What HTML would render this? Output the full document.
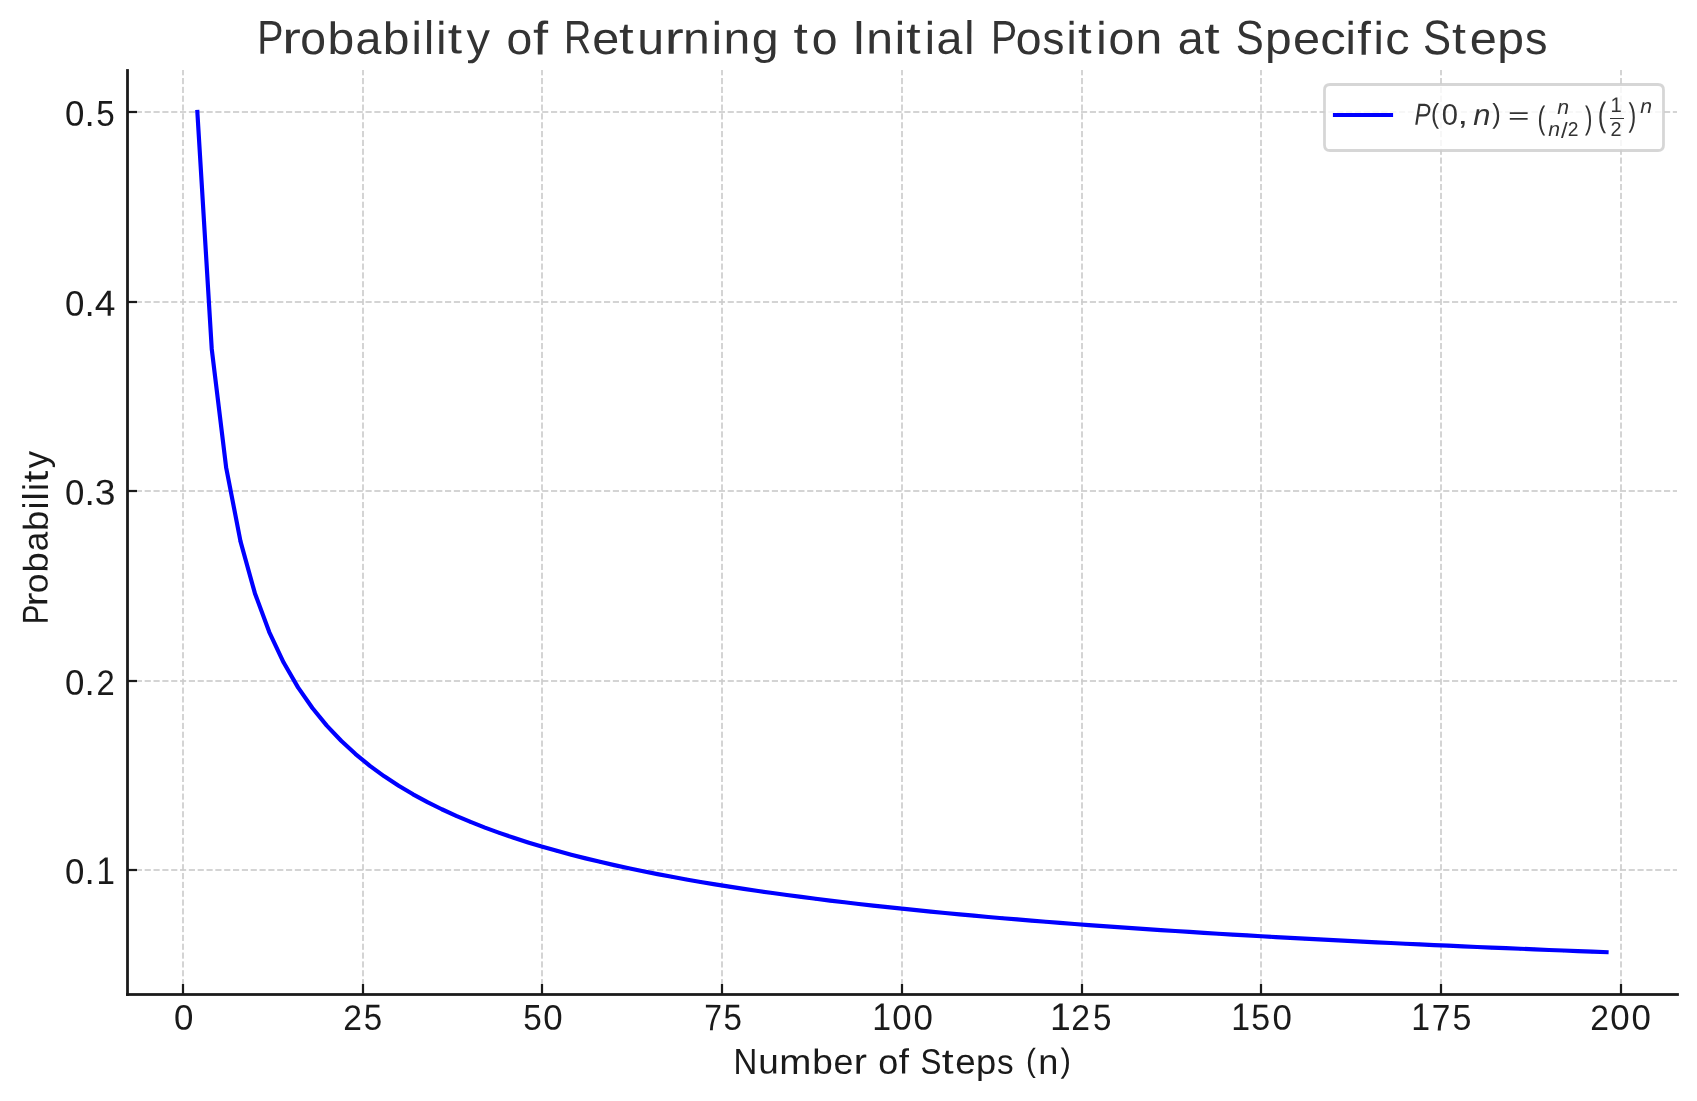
<!DOCTYPE html>
<html><head><meta charset="utf-8"><title>Probability of Returning to Initial Position at Specific Steps</title>
<style>html,body{margin:0;padding:0;background:#fff;width:1697px;height:1101px;overflow:hidden}
svg text{font-family:"Liberation Sans",sans-serif}</style></head>
<body>
<svg width="1697" height="1101" viewBox="0 0 1697 1101" style="position:absolute;left:0;top:0;display:block;will-change:transform">
<rect x="0" y="0" width="1697" height="1101" fill="#ffffff"/>
<g fill="#cccccc"><rect x="182.167" y="987.833" width="1.6667" height="6.167"/><rect x="182.167" y="979.000" width="1.6667" height="6.167"/><rect x="182.167" y="970.167" width="1.6667" height="6.167"/><rect x="182.167" y="961.333" width="1.6667" height="6.167"/><rect x="182.167" y="952.500" width="1.6667" height="6.167"/><rect x="182.167" y="943.667" width="1.6667" height="6.167"/><rect x="182.167" y="934.833" width="1.6667" height="6.167"/><rect x="182.167" y="926.000" width="1.6667" height="6.167"/><rect x="182.167" y="917.167" width="1.6667" height="6.167"/><rect x="182.167" y="908.333" width="1.6667" height="6.167"/><rect x="182.167" y="899.500" width="1.6667" height="6.167"/><rect x="182.167" y="890.667" width="1.6667" height="6.167"/><rect x="182.167" y="881.833" width="1.6667" height="6.167"/><rect x="182.167" y="873.000" width="1.6667" height="6.167"/><rect x="182.167" y="864.167" width="1.6667" height="6.167"/><rect x="182.167" y="855.333" width="1.6667" height="6.167"/><rect x="182.167" y="846.500" width="1.6667" height="6.167"/><rect x="182.167" y="837.667" width="1.6667" height="6.167"/><rect x="182.167" y="828.833" width="1.6667" height="6.167"/><rect x="182.167" y="820.000" width="1.6667" height="6.167"/><rect x="182.167" y="811.167" width="1.6667" height="6.167"/><rect x="182.167" y="802.333" width="1.6667" height="6.167"/><rect x="182.167" y="793.500" width="1.6667" height="6.167"/><rect x="182.167" y="784.667" width="1.6667" height="6.167"/><rect x="182.167" y="775.833" width="1.6667" height="6.167"/><rect x="182.167" y="767.000" width="1.6667" height="6.167"/><rect x="182.167" y="758.167" width="1.6667" height="6.167"/><rect x="182.167" y="749.333" width="1.6667" height="6.167"/><rect x="182.167" y="740.500" width="1.6667" height="6.167"/><rect x="182.167" y="731.667" width="1.6667" height="6.167"/><rect x="182.167" y="722.833" width="1.6667" height="6.167"/><rect x="182.167" y="714.000" width="1.6667" height="6.167"/><rect x="182.167" y="705.167" width="1.6667" height="6.167"/><rect x="182.167" y="696.333" width="1.6667" height="6.167"/><rect x="182.167" y="687.500" width="1.6667" height="6.167"/><rect x="182.167" y="678.667" width="1.6667" height="6.167"/><rect x="182.167" y="669.833" width="1.6667" height="6.167"/><rect x="182.167" y="661.000" width="1.6667" height="6.167"/><rect x="182.167" y="652.167" width="1.6667" height="6.167"/><rect x="182.167" y="643.333" width="1.6667" height="6.167"/><rect x="182.167" y="634.500" width="1.6667" height="6.167"/><rect x="182.167" y="625.667" width="1.6667" height="6.167"/><rect x="182.167" y="616.833" width="1.6667" height="6.167"/><rect x="182.167" y="608.000" width="1.6667" height="6.167"/><rect x="182.167" y="599.167" width="1.6667" height="6.167"/><rect x="182.167" y="590.333" width="1.6667" height="6.167"/><rect x="182.167" y="581.500" width="1.6667" height="6.167"/><rect x="182.167" y="572.667" width="1.6667" height="6.167"/><rect x="182.167" y="563.833" width="1.6667" height="6.167"/><rect x="182.167" y="555.000" width="1.6667" height="6.167"/><rect x="182.167" y="546.167" width="1.6667" height="6.167"/><rect x="182.167" y="537.333" width="1.6667" height="6.167"/><rect x="182.167" y="528.500" width="1.6667" height="6.167"/><rect x="182.167" y="519.667" width="1.6667" height="6.167"/><rect x="182.167" y="510.833" width="1.6667" height="6.167"/><rect x="182.167" y="502.000" width="1.6667" height="6.167"/><rect x="182.167" y="493.167" width="1.6667" height="6.167"/><rect x="182.167" y="484.333" width="1.6667" height="6.167"/><rect x="182.167" y="475.500" width="1.6667" height="6.167"/><rect x="182.167" y="466.667" width="1.6667" height="6.167"/><rect x="182.167" y="457.833" width="1.6667" height="6.167"/><rect x="182.167" y="449.000" width="1.6667" height="6.167"/><rect x="182.167" y="440.167" width="1.6667" height="6.167"/><rect x="182.167" y="431.333" width="1.6667" height="6.167"/><rect x="182.167" y="422.500" width="1.6667" height="6.167"/><rect x="182.167" y="413.667" width="1.6667" height="6.167"/><rect x="182.167" y="404.833" width="1.6667" height="6.167"/><rect x="182.167" y="396.000" width="1.6667" height="6.167"/><rect x="182.167" y="387.167" width="1.6667" height="6.167"/><rect x="182.167" y="378.333" width="1.6667" height="6.167"/><rect x="182.167" y="369.500" width="1.6667" height="6.167"/><rect x="182.167" y="360.667" width="1.6667" height="6.167"/><rect x="182.167" y="351.833" width="1.6667" height="6.167"/><rect x="182.167" y="343.000" width="1.6667" height="6.167"/><rect x="182.167" y="334.167" width="1.6667" height="6.167"/><rect x="182.167" y="325.333" width="1.6667" height="6.167"/><rect x="182.167" y="316.500" width="1.6667" height="6.167"/><rect x="182.167" y="307.667" width="1.6667" height="6.167"/><rect x="182.167" y="298.833" width="1.6667" height="6.167"/><rect x="182.167" y="290.000" width="1.6667" height="6.167"/><rect x="182.167" y="281.167" width="1.6667" height="6.167"/><rect x="182.167" y="272.333" width="1.6667" height="6.167"/><rect x="182.167" y="263.500" width="1.6667" height="6.167"/><rect x="182.167" y="254.667" width="1.6667" height="6.167"/><rect x="182.167" y="245.833" width="1.6667" height="6.167"/><rect x="182.167" y="237.000" width="1.6667" height="6.167"/><rect x="182.167" y="228.167" width="1.6667" height="6.167"/><rect x="182.167" y="219.333" width="1.6667" height="6.167"/><rect x="182.167" y="210.500" width="1.6667" height="6.167"/><rect x="182.167" y="201.667" width="1.6667" height="6.167"/><rect x="182.167" y="192.833" width="1.6667" height="6.167"/><rect x="182.167" y="184.000" width="1.6667" height="6.167"/><rect x="182.167" y="175.167" width="1.6667" height="6.167"/><rect x="182.167" y="166.333" width="1.6667" height="6.167"/><rect x="182.167" y="157.500" width="1.6667" height="6.167"/><rect x="182.167" y="148.667" width="1.6667" height="6.167"/><rect x="182.167" y="139.833" width="1.6667" height="6.167"/><rect x="182.167" y="131.000" width="1.6667" height="6.167"/><rect x="182.167" y="122.167" width="1.6667" height="6.167"/><rect x="182.167" y="113.333" width="1.6667" height="6.167"/><rect x="182.167" y="104.500" width="1.6667" height="6.167"/><rect x="182.167" y="95.667" width="1.6667" height="6.167"/><rect x="182.167" y="86.833" width="1.6667" height="6.167"/><rect x="182.167" y="78.000" width="1.6667" height="6.167"/><rect x="182.167" y="70.000" width="1.6667" height="5.333"/><rect x="362.167" y="987.833" width="1.6667" height="6.167"/><rect x="362.167" y="979.000" width="1.6667" height="6.167"/><rect x="362.167" y="970.167" width="1.6667" height="6.167"/><rect x="362.167" y="961.333" width="1.6667" height="6.167"/><rect x="362.167" y="952.500" width="1.6667" height="6.167"/><rect x="362.167" y="943.667" width="1.6667" height="6.167"/><rect x="362.167" y="934.833" width="1.6667" height="6.167"/><rect x="362.167" y="926.000" width="1.6667" height="6.167"/><rect x="362.167" y="917.167" width="1.6667" height="6.167"/><rect x="362.167" y="908.333" width="1.6667" height="6.167"/><rect x="362.167" y="899.500" width="1.6667" height="6.167"/><rect x="362.167" y="890.667" width="1.6667" height="6.167"/><rect x="362.167" y="881.833" width="1.6667" height="6.167"/><rect x="362.167" y="873.000" width="1.6667" height="6.167"/><rect x="362.167" y="864.167" width="1.6667" height="6.167"/><rect x="362.167" y="855.333" width="1.6667" height="6.167"/><rect x="362.167" y="846.500" width="1.6667" height="6.167"/><rect x="362.167" y="837.667" width="1.6667" height="6.167"/><rect x="362.167" y="828.833" width="1.6667" height="6.167"/><rect x="362.167" y="820.000" width="1.6667" height="6.167"/><rect x="362.167" y="811.167" width="1.6667" height="6.167"/><rect x="362.167" y="802.333" width="1.6667" height="6.167"/><rect x="362.167" y="793.500" width="1.6667" height="6.167"/><rect x="362.167" y="784.667" width="1.6667" height="6.167"/><rect x="362.167" y="775.833" width="1.6667" height="6.167"/><rect x="362.167" y="767.000" width="1.6667" height="6.167"/><rect x="362.167" y="758.167" width="1.6667" height="6.167"/><rect x="362.167" y="749.333" width="1.6667" height="6.167"/><rect x="362.167" y="740.500" width="1.6667" height="6.167"/><rect x="362.167" y="731.667" width="1.6667" height="6.167"/><rect x="362.167" y="722.833" width="1.6667" height="6.167"/><rect x="362.167" y="714.000" width="1.6667" height="6.167"/><rect x="362.167" y="705.167" width="1.6667" height="6.167"/><rect x="362.167" y="696.333" width="1.6667" height="6.167"/><rect x="362.167" y="687.500" width="1.6667" height="6.167"/><rect x="362.167" y="678.667" width="1.6667" height="6.167"/><rect x="362.167" y="669.833" width="1.6667" height="6.167"/><rect x="362.167" y="661.000" width="1.6667" height="6.167"/><rect x="362.167" y="652.167" width="1.6667" height="6.167"/><rect x="362.167" y="643.333" width="1.6667" height="6.167"/><rect x="362.167" y="634.500" width="1.6667" height="6.167"/><rect x="362.167" y="625.667" width="1.6667" height="6.167"/><rect x="362.167" y="616.833" width="1.6667" height="6.167"/><rect x="362.167" y="608.000" width="1.6667" height="6.167"/><rect x="362.167" y="599.167" width="1.6667" height="6.167"/><rect x="362.167" y="590.333" width="1.6667" height="6.167"/><rect x="362.167" y="581.500" width="1.6667" height="6.167"/><rect x="362.167" y="572.667" width="1.6667" height="6.167"/><rect x="362.167" y="563.833" width="1.6667" height="6.167"/><rect x="362.167" y="555.000" width="1.6667" height="6.167"/><rect x="362.167" y="546.167" width="1.6667" height="6.167"/><rect x="362.167" y="537.333" width="1.6667" height="6.167"/><rect x="362.167" y="528.500" width="1.6667" height="6.167"/><rect x="362.167" y="519.667" width="1.6667" height="6.167"/><rect x="362.167" y="510.833" width="1.6667" height="6.167"/><rect x="362.167" y="502.000" width="1.6667" height="6.167"/><rect x="362.167" y="493.167" width="1.6667" height="6.167"/><rect x="362.167" y="484.333" width="1.6667" height="6.167"/><rect x="362.167" y="475.500" width="1.6667" height="6.167"/><rect x="362.167" y="466.667" width="1.6667" height="6.167"/><rect x="362.167" y="457.833" width="1.6667" height="6.167"/><rect x="362.167" y="449.000" width="1.6667" height="6.167"/><rect x="362.167" y="440.167" width="1.6667" height="6.167"/><rect x="362.167" y="431.333" width="1.6667" height="6.167"/><rect x="362.167" y="422.500" width="1.6667" height="6.167"/><rect x="362.167" y="413.667" width="1.6667" height="6.167"/><rect x="362.167" y="404.833" width="1.6667" height="6.167"/><rect x="362.167" y="396.000" width="1.6667" height="6.167"/><rect x="362.167" y="387.167" width="1.6667" height="6.167"/><rect x="362.167" y="378.333" width="1.6667" height="6.167"/><rect x="362.167" y="369.500" width="1.6667" height="6.167"/><rect x="362.167" y="360.667" width="1.6667" height="6.167"/><rect x="362.167" y="351.833" width="1.6667" height="6.167"/><rect x="362.167" y="343.000" width="1.6667" height="6.167"/><rect x="362.167" y="334.167" width="1.6667" height="6.167"/><rect x="362.167" y="325.333" width="1.6667" height="6.167"/><rect x="362.167" y="316.500" width="1.6667" height="6.167"/><rect x="362.167" y="307.667" width="1.6667" height="6.167"/><rect x="362.167" y="298.833" width="1.6667" height="6.167"/><rect x="362.167" y="290.000" width="1.6667" height="6.167"/><rect x="362.167" y="281.167" width="1.6667" height="6.167"/><rect x="362.167" y="272.333" width="1.6667" height="6.167"/><rect x="362.167" y="263.500" width="1.6667" height="6.167"/><rect x="362.167" y="254.667" width="1.6667" height="6.167"/><rect x="362.167" y="245.833" width="1.6667" height="6.167"/><rect x="362.167" y="237.000" width="1.6667" height="6.167"/><rect x="362.167" y="228.167" width="1.6667" height="6.167"/><rect x="362.167" y="219.333" width="1.6667" height="6.167"/><rect x="362.167" y="210.500" width="1.6667" height="6.167"/><rect x="362.167" y="201.667" width="1.6667" height="6.167"/><rect x="362.167" y="192.833" width="1.6667" height="6.167"/><rect x="362.167" y="184.000" width="1.6667" height="6.167"/><rect x="362.167" y="175.167" width="1.6667" height="6.167"/><rect x="362.167" y="166.333" width="1.6667" height="6.167"/><rect x="362.167" y="157.500" width="1.6667" height="6.167"/><rect x="362.167" y="148.667" width="1.6667" height="6.167"/><rect x="362.167" y="139.833" width="1.6667" height="6.167"/><rect x="362.167" y="131.000" width="1.6667" height="6.167"/><rect x="362.167" y="122.167" width="1.6667" height="6.167"/><rect x="362.167" y="113.333" width="1.6667" height="6.167"/><rect x="362.167" y="104.500" width="1.6667" height="6.167"/><rect x="362.167" y="95.667" width="1.6667" height="6.167"/><rect x="362.167" y="86.833" width="1.6667" height="6.167"/><rect x="362.167" y="78.000" width="1.6667" height="6.167"/><rect x="362.167" y="70.000" width="1.6667" height="5.333"/><rect x="541.167" y="987.833" width="1.6667" height="6.167"/><rect x="541.167" y="979.000" width="1.6667" height="6.167"/><rect x="541.167" y="970.167" width="1.6667" height="6.167"/><rect x="541.167" y="961.333" width="1.6667" height="6.167"/><rect x="541.167" y="952.500" width="1.6667" height="6.167"/><rect x="541.167" y="943.667" width="1.6667" height="6.167"/><rect x="541.167" y="934.833" width="1.6667" height="6.167"/><rect x="541.167" y="926.000" width="1.6667" height="6.167"/><rect x="541.167" y="917.167" width="1.6667" height="6.167"/><rect x="541.167" y="908.333" width="1.6667" height="6.167"/><rect x="541.167" y="899.500" width="1.6667" height="6.167"/><rect x="541.167" y="890.667" width="1.6667" height="6.167"/><rect x="541.167" y="881.833" width="1.6667" height="6.167"/><rect x="541.167" y="873.000" width="1.6667" height="6.167"/><rect x="541.167" y="864.167" width="1.6667" height="6.167"/><rect x="541.167" y="855.333" width="1.6667" height="6.167"/><rect x="541.167" y="846.500" width="1.6667" height="6.167"/><rect x="541.167" y="837.667" width="1.6667" height="6.167"/><rect x="541.167" y="828.833" width="1.6667" height="6.167"/><rect x="541.167" y="820.000" width="1.6667" height="6.167"/><rect x="541.167" y="811.167" width="1.6667" height="6.167"/><rect x="541.167" y="802.333" width="1.6667" height="6.167"/><rect x="541.167" y="793.500" width="1.6667" height="6.167"/><rect x="541.167" y="784.667" width="1.6667" height="6.167"/><rect x="541.167" y="775.833" width="1.6667" height="6.167"/><rect x="541.167" y="767.000" width="1.6667" height="6.167"/><rect x="541.167" y="758.167" width="1.6667" height="6.167"/><rect x="541.167" y="749.333" width="1.6667" height="6.167"/><rect x="541.167" y="740.500" width="1.6667" height="6.167"/><rect x="541.167" y="731.667" width="1.6667" height="6.167"/><rect x="541.167" y="722.833" width="1.6667" height="6.167"/><rect x="541.167" y="714.000" width="1.6667" height="6.167"/><rect x="541.167" y="705.167" width="1.6667" height="6.167"/><rect x="541.167" y="696.333" width="1.6667" height="6.167"/><rect x="541.167" y="687.500" width="1.6667" height="6.167"/><rect x="541.167" y="678.667" width="1.6667" height="6.167"/><rect x="541.167" y="669.833" width="1.6667" height="6.167"/><rect x="541.167" y="661.000" width="1.6667" height="6.167"/><rect x="541.167" y="652.167" width="1.6667" height="6.167"/><rect x="541.167" y="643.333" width="1.6667" height="6.167"/><rect x="541.167" y="634.500" width="1.6667" height="6.167"/><rect x="541.167" y="625.667" width="1.6667" height="6.167"/><rect x="541.167" y="616.833" width="1.6667" height="6.167"/><rect x="541.167" y="608.000" width="1.6667" height="6.167"/><rect x="541.167" y="599.167" width="1.6667" height="6.167"/><rect x="541.167" y="590.333" width="1.6667" height="6.167"/><rect x="541.167" y="581.500" width="1.6667" height="6.167"/><rect x="541.167" y="572.667" width="1.6667" height="6.167"/><rect x="541.167" y="563.833" width="1.6667" height="6.167"/><rect x="541.167" y="555.000" width="1.6667" height="6.167"/><rect x="541.167" y="546.167" width="1.6667" height="6.167"/><rect x="541.167" y="537.333" width="1.6667" height="6.167"/><rect x="541.167" y="528.500" width="1.6667" height="6.167"/><rect x="541.167" y="519.667" width="1.6667" height="6.167"/><rect x="541.167" y="510.833" width="1.6667" height="6.167"/><rect x="541.167" y="502.000" width="1.6667" height="6.167"/><rect x="541.167" y="493.167" width="1.6667" height="6.167"/><rect x="541.167" y="484.333" width="1.6667" height="6.167"/><rect x="541.167" y="475.500" width="1.6667" height="6.167"/><rect x="541.167" y="466.667" width="1.6667" height="6.167"/><rect x="541.167" y="457.833" width="1.6667" height="6.167"/><rect x="541.167" y="449.000" width="1.6667" height="6.167"/><rect x="541.167" y="440.167" width="1.6667" height="6.167"/><rect x="541.167" y="431.333" width="1.6667" height="6.167"/><rect x="541.167" y="422.500" width="1.6667" height="6.167"/><rect x="541.167" y="413.667" width="1.6667" height="6.167"/><rect x="541.167" y="404.833" width="1.6667" height="6.167"/><rect x="541.167" y="396.000" width="1.6667" height="6.167"/><rect x="541.167" y="387.167" width="1.6667" height="6.167"/><rect x="541.167" y="378.333" width="1.6667" height="6.167"/><rect x="541.167" y="369.500" width="1.6667" height="6.167"/><rect x="541.167" y="360.667" width="1.6667" height="6.167"/><rect x="541.167" y="351.833" width="1.6667" height="6.167"/><rect x="541.167" y="343.000" width="1.6667" height="6.167"/><rect x="541.167" y="334.167" width="1.6667" height="6.167"/><rect x="541.167" y="325.333" width="1.6667" height="6.167"/><rect x="541.167" y="316.500" width="1.6667" height="6.167"/><rect x="541.167" y="307.667" width="1.6667" height="6.167"/><rect x="541.167" y="298.833" width="1.6667" height="6.167"/><rect x="541.167" y="290.000" width="1.6667" height="6.167"/><rect x="541.167" y="281.167" width="1.6667" height="6.167"/><rect x="541.167" y="272.333" width="1.6667" height="6.167"/><rect x="541.167" y="263.500" width="1.6667" height="6.167"/><rect x="541.167" y="254.667" width="1.6667" height="6.167"/><rect x="541.167" y="245.833" width="1.6667" height="6.167"/><rect x="541.167" y="237.000" width="1.6667" height="6.167"/><rect x="541.167" y="228.167" width="1.6667" height="6.167"/><rect x="541.167" y="219.333" width="1.6667" height="6.167"/><rect x="541.167" y="210.500" width="1.6667" height="6.167"/><rect x="541.167" y="201.667" width="1.6667" height="6.167"/><rect x="541.167" y="192.833" width="1.6667" height="6.167"/><rect x="541.167" y="184.000" width="1.6667" height="6.167"/><rect x="541.167" y="175.167" width="1.6667" height="6.167"/><rect x="541.167" y="166.333" width="1.6667" height="6.167"/><rect x="541.167" y="157.500" width="1.6667" height="6.167"/><rect x="541.167" y="148.667" width="1.6667" height="6.167"/><rect x="541.167" y="139.833" width="1.6667" height="6.167"/><rect x="541.167" y="131.000" width="1.6667" height="6.167"/><rect x="541.167" y="122.167" width="1.6667" height="6.167"/><rect x="541.167" y="113.333" width="1.6667" height="6.167"/><rect x="541.167" y="104.500" width="1.6667" height="6.167"/><rect x="541.167" y="95.667" width="1.6667" height="6.167"/><rect x="541.167" y="86.833" width="1.6667" height="6.167"/><rect x="541.167" y="78.000" width="1.6667" height="6.167"/><rect x="541.167" y="70.000" width="1.6667" height="5.333"/><rect x="721.167" y="987.833" width="1.6667" height="6.167"/><rect x="721.167" y="979.000" width="1.6667" height="6.167"/><rect x="721.167" y="970.167" width="1.6667" height="6.167"/><rect x="721.167" y="961.333" width="1.6667" height="6.167"/><rect x="721.167" y="952.500" width="1.6667" height="6.167"/><rect x="721.167" y="943.667" width="1.6667" height="6.167"/><rect x="721.167" y="934.833" width="1.6667" height="6.167"/><rect x="721.167" y="926.000" width="1.6667" height="6.167"/><rect x="721.167" y="917.167" width="1.6667" height="6.167"/><rect x="721.167" y="908.333" width="1.6667" height="6.167"/><rect x="721.167" y="899.500" width="1.6667" height="6.167"/><rect x="721.167" y="890.667" width="1.6667" height="6.167"/><rect x="721.167" y="881.833" width="1.6667" height="6.167"/><rect x="721.167" y="873.000" width="1.6667" height="6.167"/><rect x="721.167" y="864.167" width="1.6667" height="6.167"/><rect x="721.167" y="855.333" width="1.6667" height="6.167"/><rect x="721.167" y="846.500" width="1.6667" height="6.167"/><rect x="721.167" y="837.667" width="1.6667" height="6.167"/><rect x="721.167" y="828.833" width="1.6667" height="6.167"/><rect x="721.167" y="820.000" width="1.6667" height="6.167"/><rect x="721.167" y="811.167" width="1.6667" height="6.167"/><rect x="721.167" y="802.333" width="1.6667" height="6.167"/><rect x="721.167" y="793.500" width="1.6667" height="6.167"/><rect x="721.167" y="784.667" width="1.6667" height="6.167"/><rect x="721.167" y="775.833" width="1.6667" height="6.167"/><rect x="721.167" y="767.000" width="1.6667" height="6.167"/><rect x="721.167" y="758.167" width="1.6667" height="6.167"/><rect x="721.167" y="749.333" width="1.6667" height="6.167"/><rect x="721.167" y="740.500" width="1.6667" height="6.167"/><rect x="721.167" y="731.667" width="1.6667" height="6.167"/><rect x="721.167" y="722.833" width="1.6667" height="6.167"/><rect x="721.167" y="714.000" width="1.6667" height="6.167"/><rect x="721.167" y="705.167" width="1.6667" height="6.167"/><rect x="721.167" y="696.333" width="1.6667" height="6.167"/><rect x="721.167" y="687.500" width="1.6667" height="6.167"/><rect x="721.167" y="678.667" width="1.6667" height="6.167"/><rect x="721.167" y="669.833" width="1.6667" height="6.167"/><rect x="721.167" y="661.000" width="1.6667" height="6.167"/><rect x="721.167" y="652.167" width="1.6667" height="6.167"/><rect x="721.167" y="643.333" width="1.6667" height="6.167"/><rect x="721.167" y="634.500" width="1.6667" height="6.167"/><rect x="721.167" y="625.667" width="1.6667" height="6.167"/><rect x="721.167" y="616.833" width="1.6667" height="6.167"/><rect x="721.167" y="608.000" width="1.6667" height="6.167"/><rect x="721.167" y="599.167" width="1.6667" height="6.167"/><rect x="721.167" y="590.333" width="1.6667" height="6.167"/><rect x="721.167" y="581.500" width="1.6667" height="6.167"/><rect x="721.167" y="572.667" width="1.6667" height="6.167"/><rect x="721.167" y="563.833" width="1.6667" height="6.167"/><rect x="721.167" y="555.000" width="1.6667" height="6.167"/><rect x="721.167" y="546.167" width="1.6667" height="6.167"/><rect x="721.167" y="537.333" width="1.6667" height="6.167"/><rect x="721.167" y="528.500" width="1.6667" height="6.167"/><rect x="721.167" y="519.667" width="1.6667" height="6.167"/><rect x="721.167" y="510.833" width="1.6667" height="6.167"/><rect x="721.167" y="502.000" width="1.6667" height="6.167"/><rect x="721.167" y="493.167" width="1.6667" height="6.167"/><rect x="721.167" y="484.333" width="1.6667" height="6.167"/><rect x="721.167" y="475.500" width="1.6667" height="6.167"/><rect x="721.167" y="466.667" width="1.6667" height="6.167"/><rect x="721.167" y="457.833" width="1.6667" height="6.167"/><rect x="721.167" y="449.000" width="1.6667" height="6.167"/><rect x="721.167" y="440.167" width="1.6667" height="6.167"/><rect x="721.167" y="431.333" width="1.6667" height="6.167"/><rect x="721.167" y="422.500" width="1.6667" height="6.167"/><rect x="721.167" y="413.667" width="1.6667" height="6.167"/><rect x="721.167" y="404.833" width="1.6667" height="6.167"/><rect x="721.167" y="396.000" width="1.6667" height="6.167"/><rect x="721.167" y="387.167" width="1.6667" height="6.167"/><rect x="721.167" y="378.333" width="1.6667" height="6.167"/><rect x="721.167" y="369.500" width="1.6667" height="6.167"/><rect x="721.167" y="360.667" width="1.6667" height="6.167"/><rect x="721.167" y="351.833" width="1.6667" height="6.167"/><rect x="721.167" y="343.000" width="1.6667" height="6.167"/><rect x="721.167" y="334.167" width="1.6667" height="6.167"/><rect x="721.167" y="325.333" width="1.6667" height="6.167"/><rect x="721.167" y="316.500" width="1.6667" height="6.167"/><rect x="721.167" y="307.667" width="1.6667" height="6.167"/><rect x="721.167" y="298.833" width="1.6667" height="6.167"/><rect x="721.167" y="290.000" width="1.6667" height="6.167"/><rect x="721.167" y="281.167" width="1.6667" height="6.167"/><rect x="721.167" y="272.333" width="1.6667" height="6.167"/><rect x="721.167" y="263.500" width="1.6667" height="6.167"/><rect x="721.167" y="254.667" width="1.6667" height="6.167"/><rect x="721.167" y="245.833" width="1.6667" height="6.167"/><rect x="721.167" y="237.000" width="1.6667" height="6.167"/><rect x="721.167" y="228.167" width="1.6667" height="6.167"/><rect x="721.167" y="219.333" width="1.6667" height="6.167"/><rect x="721.167" y="210.500" width="1.6667" height="6.167"/><rect x="721.167" y="201.667" width="1.6667" height="6.167"/><rect x="721.167" y="192.833" width="1.6667" height="6.167"/><rect x="721.167" y="184.000" width="1.6667" height="6.167"/><rect x="721.167" y="175.167" width="1.6667" height="6.167"/><rect x="721.167" y="166.333" width="1.6667" height="6.167"/><rect x="721.167" y="157.500" width="1.6667" height="6.167"/><rect x="721.167" y="148.667" width="1.6667" height="6.167"/><rect x="721.167" y="139.833" width="1.6667" height="6.167"/><rect x="721.167" y="131.000" width="1.6667" height="6.167"/><rect x="721.167" y="122.167" width="1.6667" height="6.167"/><rect x="721.167" y="113.333" width="1.6667" height="6.167"/><rect x="721.167" y="104.500" width="1.6667" height="6.167"/><rect x="721.167" y="95.667" width="1.6667" height="6.167"/><rect x="721.167" y="86.833" width="1.6667" height="6.167"/><rect x="721.167" y="78.000" width="1.6667" height="6.167"/><rect x="721.167" y="70.000" width="1.6667" height="5.333"/><rect x="901.167" y="987.833" width="1.6667" height="6.167"/><rect x="901.167" y="979.000" width="1.6667" height="6.167"/><rect x="901.167" y="970.167" width="1.6667" height="6.167"/><rect x="901.167" y="961.333" width="1.6667" height="6.167"/><rect x="901.167" y="952.500" width="1.6667" height="6.167"/><rect x="901.167" y="943.667" width="1.6667" height="6.167"/><rect x="901.167" y="934.833" width="1.6667" height="6.167"/><rect x="901.167" y="926.000" width="1.6667" height="6.167"/><rect x="901.167" y="917.167" width="1.6667" height="6.167"/><rect x="901.167" y="908.333" width="1.6667" height="6.167"/><rect x="901.167" y="899.500" width="1.6667" height="6.167"/><rect x="901.167" y="890.667" width="1.6667" height="6.167"/><rect x="901.167" y="881.833" width="1.6667" height="6.167"/><rect x="901.167" y="873.000" width="1.6667" height="6.167"/><rect x="901.167" y="864.167" width="1.6667" height="6.167"/><rect x="901.167" y="855.333" width="1.6667" height="6.167"/><rect x="901.167" y="846.500" width="1.6667" height="6.167"/><rect x="901.167" y="837.667" width="1.6667" height="6.167"/><rect x="901.167" y="828.833" width="1.6667" height="6.167"/><rect x="901.167" y="820.000" width="1.6667" height="6.167"/><rect x="901.167" y="811.167" width="1.6667" height="6.167"/><rect x="901.167" y="802.333" width="1.6667" height="6.167"/><rect x="901.167" y="793.500" width="1.6667" height="6.167"/><rect x="901.167" y="784.667" width="1.6667" height="6.167"/><rect x="901.167" y="775.833" width="1.6667" height="6.167"/><rect x="901.167" y="767.000" width="1.6667" height="6.167"/><rect x="901.167" y="758.167" width="1.6667" height="6.167"/><rect x="901.167" y="749.333" width="1.6667" height="6.167"/><rect x="901.167" y="740.500" width="1.6667" height="6.167"/><rect x="901.167" y="731.667" width="1.6667" height="6.167"/><rect x="901.167" y="722.833" width="1.6667" height="6.167"/><rect x="901.167" y="714.000" width="1.6667" height="6.167"/><rect x="901.167" y="705.167" width="1.6667" height="6.167"/><rect x="901.167" y="696.333" width="1.6667" height="6.167"/><rect x="901.167" y="687.500" width="1.6667" height="6.167"/><rect x="901.167" y="678.667" width="1.6667" height="6.167"/><rect x="901.167" y="669.833" width="1.6667" height="6.167"/><rect x="901.167" y="661.000" width="1.6667" height="6.167"/><rect x="901.167" y="652.167" width="1.6667" height="6.167"/><rect x="901.167" y="643.333" width="1.6667" height="6.167"/><rect x="901.167" y="634.500" width="1.6667" height="6.167"/><rect x="901.167" y="625.667" width="1.6667" height="6.167"/><rect x="901.167" y="616.833" width="1.6667" height="6.167"/><rect x="901.167" y="608.000" width="1.6667" height="6.167"/><rect x="901.167" y="599.167" width="1.6667" height="6.167"/><rect x="901.167" y="590.333" width="1.6667" height="6.167"/><rect x="901.167" y="581.500" width="1.6667" height="6.167"/><rect x="901.167" y="572.667" width="1.6667" height="6.167"/><rect x="901.167" y="563.833" width="1.6667" height="6.167"/><rect x="901.167" y="555.000" width="1.6667" height="6.167"/><rect x="901.167" y="546.167" width="1.6667" height="6.167"/><rect x="901.167" y="537.333" width="1.6667" height="6.167"/><rect x="901.167" y="528.500" width="1.6667" height="6.167"/><rect x="901.167" y="519.667" width="1.6667" height="6.167"/><rect x="901.167" y="510.833" width="1.6667" height="6.167"/><rect x="901.167" y="502.000" width="1.6667" height="6.167"/><rect x="901.167" y="493.167" width="1.6667" height="6.167"/><rect x="901.167" y="484.333" width="1.6667" height="6.167"/><rect x="901.167" y="475.500" width="1.6667" height="6.167"/><rect x="901.167" y="466.667" width="1.6667" height="6.167"/><rect x="901.167" y="457.833" width="1.6667" height="6.167"/><rect x="901.167" y="449.000" width="1.6667" height="6.167"/><rect x="901.167" y="440.167" width="1.6667" height="6.167"/><rect x="901.167" y="431.333" width="1.6667" height="6.167"/><rect x="901.167" y="422.500" width="1.6667" height="6.167"/><rect x="901.167" y="413.667" width="1.6667" height="6.167"/><rect x="901.167" y="404.833" width="1.6667" height="6.167"/><rect x="901.167" y="396.000" width="1.6667" height="6.167"/><rect x="901.167" y="387.167" width="1.6667" height="6.167"/><rect x="901.167" y="378.333" width="1.6667" height="6.167"/><rect x="901.167" y="369.500" width="1.6667" height="6.167"/><rect x="901.167" y="360.667" width="1.6667" height="6.167"/><rect x="901.167" y="351.833" width="1.6667" height="6.167"/><rect x="901.167" y="343.000" width="1.6667" height="6.167"/><rect x="901.167" y="334.167" width="1.6667" height="6.167"/><rect x="901.167" y="325.333" width="1.6667" height="6.167"/><rect x="901.167" y="316.500" width="1.6667" height="6.167"/><rect x="901.167" y="307.667" width="1.6667" height="6.167"/><rect x="901.167" y="298.833" width="1.6667" height="6.167"/><rect x="901.167" y="290.000" width="1.6667" height="6.167"/><rect x="901.167" y="281.167" width="1.6667" height="6.167"/><rect x="901.167" y="272.333" width="1.6667" height="6.167"/><rect x="901.167" y="263.500" width="1.6667" height="6.167"/><rect x="901.167" y="254.667" width="1.6667" height="6.167"/><rect x="901.167" y="245.833" width="1.6667" height="6.167"/><rect x="901.167" y="237.000" width="1.6667" height="6.167"/><rect x="901.167" y="228.167" width="1.6667" height="6.167"/><rect x="901.167" y="219.333" width="1.6667" height="6.167"/><rect x="901.167" y="210.500" width="1.6667" height="6.167"/><rect x="901.167" y="201.667" width="1.6667" height="6.167"/><rect x="901.167" y="192.833" width="1.6667" height="6.167"/><rect x="901.167" y="184.000" width="1.6667" height="6.167"/><rect x="901.167" y="175.167" width="1.6667" height="6.167"/><rect x="901.167" y="166.333" width="1.6667" height="6.167"/><rect x="901.167" y="157.500" width="1.6667" height="6.167"/><rect x="901.167" y="148.667" width="1.6667" height="6.167"/><rect x="901.167" y="139.833" width="1.6667" height="6.167"/><rect x="901.167" y="131.000" width="1.6667" height="6.167"/><rect x="901.167" y="122.167" width="1.6667" height="6.167"/><rect x="901.167" y="113.333" width="1.6667" height="6.167"/><rect x="901.167" y="104.500" width="1.6667" height="6.167"/><rect x="901.167" y="95.667" width="1.6667" height="6.167"/><rect x="901.167" y="86.833" width="1.6667" height="6.167"/><rect x="901.167" y="78.000" width="1.6667" height="6.167"/><rect x="901.167" y="70.000" width="1.6667" height="5.333"/><rect x="1081.167" y="987.833" width="1.6667" height="6.167"/><rect x="1081.167" y="979.000" width="1.6667" height="6.167"/><rect x="1081.167" y="970.167" width="1.6667" height="6.167"/><rect x="1081.167" y="961.333" width="1.6667" height="6.167"/><rect x="1081.167" y="952.500" width="1.6667" height="6.167"/><rect x="1081.167" y="943.667" width="1.6667" height="6.167"/><rect x="1081.167" y="934.833" width="1.6667" height="6.167"/><rect x="1081.167" y="926.000" width="1.6667" height="6.167"/><rect x="1081.167" y="917.167" width="1.6667" height="6.167"/><rect x="1081.167" y="908.333" width="1.6667" height="6.167"/><rect x="1081.167" y="899.500" width="1.6667" height="6.167"/><rect x="1081.167" y="890.667" width="1.6667" height="6.167"/><rect x="1081.167" y="881.833" width="1.6667" height="6.167"/><rect x="1081.167" y="873.000" width="1.6667" height="6.167"/><rect x="1081.167" y="864.167" width="1.6667" height="6.167"/><rect x="1081.167" y="855.333" width="1.6667" height="6.167"/><rect x="1081.167" y="846.500" width="1.6667" height="6.167"/><rect x="1081.167" y="837.667" width="1.6667" height="6.167"/><rect x="1081.167" y="828.833" width="1.6667" height="6.167"/><rect x="1081.167" y="820.000" width="1.6667" height="6.167"/><rect x="1081.167" y="811.167" width="1.6667" height="6.167"/><rect x="1081.167" y="802.333" width="1.6667" height="6.167"/><rect x="1081.167" y="793.500" width="1.6667" height="6.167"/><rect x="1081.167" y="784.667" width="1.6667" height="6.167"/><rect x="1081.167" y="775.833" width="1.6667" height="6.167"/><rect x="1081.167" y="767.000" width="1.6667" height="6.167"/><rect x="1081.167" y="758.167" width="1.6667" height="6.167"/><rect x="1081.167" y="749.333" width="1.6667" height="6.167"/><rect x="1081.167" y="740.500" width="1.6667" height="6.167"/><rect x="1081.167" y="731.667" width="1.6667" height="6.167"/><rect x="1081.167" y="722.833" width="1.6667" height="6.167"/><rect x="1081.167" y="714.000" width="1.6667" height="6.167"/><rect x="1081.167" y="705.167" width="1.6667" height="6.167"/><rect x="1081.167" y="696.333" width="1.6667" height="6.167"/><rect x="1081.167" y="687.500" width="1.6667" height="6.167"/><rect x="1081.167" y="678.667" width="1.6667" height="6.167"/><rect x="1081.167" y="669.833" width="1.6667" height="6.167"/><rect x="1081.167" y="661.000" width="1.6667" height="6.167"/><rect x="1081.167" y="652.167" width="1.6667" height="6.167"/><rect x="1081.167" y="643.333" width="1.6667" height="6.167"/><rect x="1081.167" y="634.500" width="1.6667" height="6.167"/><rect x="1081.167" y="625.667" width="1.6667" height="6.167"/><rect x="1081.167" y="616.833" width="1.6667" height="6.167"/><rect x="1081.167" y="608.000" width="1.6667" height="6.167"/><rect x="1081.167" y="599.167" width="1.6667" height="6.167"/><rect x="1081.167" y="590.333" width="1.6667" height="6.167"/><rect x="1081.167" y="581.500" width="1.6667" height="6.167"/><rect x="1081.167" y="572.667" width="1.6667" height="6.167"/><rect x="1081.167" y="563.833" width="1.6667" height="6.167"/><rect x="1081.167" y="555.000" width="1.6667" height="6.167"/><rect x="1081.167" y="546.167" width="1.6667" height="6.167"/><rect x="1081.167" y="537.333" width="1.6667" height="6.167"/><rect x="1081.167" y="528.500" width="1.6667" height="6.167"/><rect x="1081.167" y="519.667" width="1.6667" height="6.167"/><rect x="1081.167" y="510.833" width="1.6667" height="6.167"/><rect x="1081.167" y="502.000" width="1.6667" height="6.167"/><rect x="1081.167" y="493.167" width="1.6667" height="6.167"/><rect x="1081.167" y="484.333" width="1.6667" height="6.167"/><rect x="1081.167" y="475.500" width="1.6667" height="6.167"/><rect x="1081.167" y="466.667" width="1.6667" height="6.167"/><rect x="1081.167" y="457.833" width="1.6667" height="6.167"/><rect x="1081.167" y="449.000" width="1.6667" height="6.167"/><rect x="1081.167" y="440.167" width="1.6667" height="6.167"/><rect x="1081.167" y="431.333" width="1.6667" height="6.167"/><rect x="1081.167" y="422.500" width="1.6667" height="6.167"/><rect x="1081.167" y="413.667" width="1.6667" height="6.167"/><rect x="1081.167" y="404.833" width="1.6667" height="6.167"/><rect x="1081.167" y="396.000" width="1.6667" height="6.167"/><rect x="1081.167" y="387.167" width="1.6667" height="6.167"/><rect x="1081.167" y="378.333" width="1.6667" height="6.167"/><rect x="1081.167" y="369.500" width="1.6667" height="6.167"/><rect x="1081.167" y="360.667" width="1.6667" height="6.167"/><rect x="1081.167" y="351.833" width="1.6667" height="6.167"/><rect x="1081.167" y="343.000" width="1.6667" height="6.167"/><rect x="1081.167" y="334.167" width="1.6667" height="6.167"/><rect x="1081.167" y="325.333" width="1.6667" height="6.167"/><rect x="1081.167" y="316.500" width="1.6667" height="6.167"/><rect x="1081.167" y="307.667" width="1.6667" height="6.167"/><rect x="1081.167" y="298.833" width="1.6667" height="6.167"/><rect x="1081.167" y="290.000" width="1.6667" height="6.167"/><rect x="1081.167" y="281.167" width="1.6667" height="6.167"/><rect x="1081.167" y="272.333" width="1.6667" height="6.167"/><rect x="1081.167" y="263.500" width="1.6667" height="6.167"/><rect x="1081.167" y="254.667" width="1.6667" height="6.167"/><rect x="1081.167" y="245.833" width="1.6667" height="6.167"/><rect x="1081.167" y="237.000" width="1.6667" height="6.167"/><rect x="1081.167" y="228.167" width="1.6667" height="6.167"/><rect x="1081.167" y="219.333" width="1.6667" height="6.167"/><rect x="1081.167" y="210.500" width="1.6667" height="6.167"/><rect x="1081.167" y="201.667" width="1.6667" height="6.167"/><rect x="1081.167" y="192.833" width="1.6667" height="6.167"/><rect x="1081.167" y="184.000" width="1.6667" height="6.167"/><rect x="1081.167" y="175.167" width="1.6667" height="6.167"/><rect x="1081.167" y="166.333" width="1.6667" height="6.167"/><rect x="1081.167" y="157.500" width="1.6667" height="6.167"/><rect x="1081.167" y="148.667" width="1.6667" height="6.167"/><rect x="1081.167" y="139.833" width="1.6667" height="6.167"/><rect x="1081.167" y="131.000" width="1.6667" height="6.167"/><rect x="1081.167" y="122.167" width="1.6667" height="6.167"/><rect x="1081.167" y="113.333" width="1.6667" height="6.167"/><rect x="1081.167" y="104.500" width="1.6667" height="6.167"/><rect x="1081.167" y="95.667" width="1.6667" height="6.167"/><rect x="1081.167" y="86.833" width="1.6667" height="6.167"/><rect x="1081.167" y="78.000" width="1.6667" height="6.167"/><rect x="1081.167" y="70.000" width="1.6667" height="5.333"/><rect x="1260.167" y="987.833" width="1.6667" height="6.167"/><rect x="1260.167" y="979.000" width="1.6667" height="6.167"/><rect x="1260.167" y="970.167" width="1.6667" height="6.167"/><rect x="1260.167" y="961.333" width="1.6667" height="6.167"/><rect x="1260.167" y="952.500" width="1.6667" height="6.167"/><rect x="1260.167" y="943.667" width="1.6667" height="6.167"/><rect x="1260.167" y="934.833" width="1.6667" height="6.167"/><rect x="1260.167" y="926.000" width="1.6667" height="6.167"/><rect x="1260.167" y="917.167" width="1.6667" height="6.167"/><rect x="1260.167" y="908.333" width="1.6667" height="6.167"/><rect x="1260.167" y="899.500" width="1.6667" height="6.167"/><rect x="1260.167" y="890.667" width="1.6667" height="6.167"/><rect x="1260.167" y="881.833" width="1.6667" height="6.167"/><rect x="1260.167" y="873.000" width="1.6667" height="6.167"/><rect x="1260.167" y="864.167" width="1.6667" height="6.167"/><rect x="1260.167" y="855.333" width="1.6667" height="6.167"/><rect x="1260.167" y="846.500" width="1.6667" height="6.167"/><rect x="1260.167" y="837.667" width="1.6667" height="6.167"/><rect x="1260.167" y="828.833" width="1.6667" height="6.167"/><rect x="1260.167" y="820.000" width="1.6667" height="6.167"/><rect x="1260.167" y="811.167" width="1.6667" height="6.167"/><rect x="1260.167" y="802.333" width="1.6667" height="6.167"/><rect x="1260.167" y="793.500" width="1.6667" height="6.167"/><rect x="1260.167" y="784.667" width="1.6667" height="6.167"/><rect x="1260.167" y="775.833" width="1.6667" height="6.167"/><rect x="1260.167" y="767.000" width="1.6667" height="6.167"/><rect x="1260.167" y="758.167" width="1.6667" height="6.167"/><rect x="1260.167" y="749.333" width="1.6667" height="6.167"/><rect x="1260.167" y="740.500" width="1.6667" height="6.167"/><rect x="1260.167" y="731.667" width="1.6667" height="6.167"/><rect x="1260.167" y="722.833" width="1.6667" height="6.167"/><rect x="1260.167" y="714.000" width="1.6667" height="6.167"/><rect x="1260.167" y="705.167" width="1.6667" height="6.167"/><rect x="1260.167" y="696.333" width="1.6667" height="6.167"/><rect x="1260.167" y="687.500" width="1.6667" height="6.167"/><rect x="1260.167" y="678.667" width="1.6667" height="6.167"/><rect x="1260.167" y="669.833" width="1.6667" height="6.167"/><rect x="1260.167" y="661.000" width="1.6667" height="6.167"/><rect x="1260.167" y="652.167" width="1.6667" height="6.167"/><rect x="1260.167" y="643.333" width="1.6667" height="6.167"/><rect x="1260.167" y="634.500" width="1.6667" height="6.167"/><rect x="1260.167" y="625.667" width="1.6667" height="6.167"/><rect x="1260.167" y="616.833" width="1.6667" height="6.167"/><rect x="1260.167" y="608.000" width="1.6667" height="6.167"/><rect x="1260.167" y="599.167" width="1.6667" height="6.167"/><rect x="1260.167" y="590.333" width="1.6667" height="6.167"/><rect x="1260.167" y="581.500" width="1.6667" height="6.167"/><rect x="1260.167" y="572.667" width="1.6667" height="6.167"/><rect x="1260.167" y="563.833" width="1.6667" height="6.167"/><rect x="1260.167" y="555.000" width="1.6667" height="6.167"/><rect x="1260.167" y="546.167" width="1.6667" height="6.167"/><rect x="1260.167" y="537.333" width="1.6667" height="6.167"/><rect x="1260.167" y="528.500" width="1.6667" height="6.167"/><rect x="1260.167" y="519.667" width="1.6667" height="6.167"/><rect x="1260.167" y="510.833" width="1.6667" height="6.167"/><rect x="1260.167" y="502.000" width="1.6667" height="6.167"/><rect x="1260.167" y="493.167" width="1.6667" height="6.167"/><rect x="1260.167" y="484.333" width="1.6667" height="6.167"/><rect x="1260.167" y="475.500" width="1.6667" height="6.167"/><rect x="1260.167" y="466.667" width="1.6667" height="6.167"/><rect x="1260.167" y="457.833" width="1.6667" height="6.167"/><rect x="1260.167" y="449.000" width="1.6667" height="6.167"/><rect x="1260.167" y="440.167" width="1.6667" height="6.167"/><rect x="1260.167" y="431.333" width="1.6667" height="6.167"/><rect x="1260.167" y="422.500" width="1.6667" height="6.167"/><rect x="1260.167" y="413.667" width="1.6667" height="6.167"/><rect x="1260.167" y="404.833" width="1.6667" height="6.167"/><rect x="1260.167" y="396.000" width="1.6667" height="6.167"/><rect x="1260.167" y="387.167" width="1.6667" height="6.167"/><rect x="1260.167" y="378.333" width="1.6667" height="6.167"/><rect x="1260.167" y="369.500" width="1.6667" height="6.167"/><rect x="1260.167" y="360.667" width="1.6667" height="6.167"/><rect x="1260.167" y="351.833" width="1.6667" height="6.167"/><rect x="1260.167" y="343.000" width="1.6667" height="6.167"/><rect x="1260.167" y="334.167" width="1.6667" height="6.167"/><rect x="1260.167" y="325.333" width="1.6667" height="6.167"/><rect x="1260.167" y="316.500" width="1.6667" height="6.167"/><rect x="1260.167" y="307.667" width="1.6667" height="6.167"/><rect x="1260.167" y="298.833" width="1.6667" height="6.167"/><rect x="1260.167" y="290.000" width="1.6667" height="6.167"/><rect x="1260.167" y="281.167" width="1.6667" height="6.167"/><rect x="1260.167" y="272.333" width="1.6667" height="6.167"/><rect x="1260.167" y="263.500" width="1.6667" height="6.167"/><rect x="1260.167" y="254.667" width="1.6667" height="6.167"/><rect x="1260.167" y="245.833" width="1.6667" height="6.167"/><rect x="1260.167" y="237.000" width="1.6667" height="6.167"/><rect x="1260.167" y="228.167" width="1.6667" height="6.167"/><rect x="1260.167" y="219.333" width="1.6667" height="6.167"/><rect x="1260.167" y="210.500" width="1.6667" height="6.167"/><rect x="1260.167" y="201.667" width="1.6667" height="6.167"/><rect x="1260.167" y="192.833" width="1.6667" height="6.167"/><rect x="1260.167" y="184.000" width="1.6667" height="6.167"/><rect x="1260.167" y="175.167" width="1.6667" height="6.167"/><rect x="1260.167" y="166.333" width="1.6667" height="6.167"/><rect x="1260.167" y="157.500" width="1.6667" height="6.167"/><rect x="1260.167" y="148.667" width="1.6667" height="6.167"/><rect x="1260.167" y="139.833" width="1.6667" height="6.167"/><rect x="1260.167" y="131.000" width="1.6667" height="6.167"/><rect x="1260.167" y="122.167" width="1.6667" height="6.167"/><rect x="1260.167" y="113.333" width="1.6667" height="6.167"/><rect x="1260.167" y="104.500" width="1.6667" height="6.167"/><rect x="1260.167" y="95.667" width="1.6667" height="6.167"/><rect x="1260.167" y="86.833" width="1.6667" height="6.167"/><rect x="1260.167" y="78.000" width="1.6667" height="6.167"/><rect x="1260.167" y="70.000" width="1.6667" height="5.333"/><rect x="1440.167" y="987.833" width="1.6667" height="6.167"/><rect x="1440.167" y="979.000" width="1.6667" height="6.167"/><rect x="1440.167" y="970.167" width="1.6667" height="6.167"/><rect x="1440.167" y="961.333" width="1.6667" height="6.167"/><rect x="1440.167" y="952.500" width="1.6667" height="6.167"/><rect x="1440.167" y="943.667" width="1.6667" height="6.167"/><rect x="1440.167" y="934.833" width="1.6667" height="6.167"/><rect x="1440.167" y="926.000" width="1.6667" height="6.167"/><rect x="1440.167" y="917.167" width="1.6667" height="6.167"/><rect x="1440.167" y="908.333" width="1.6667" height="6.167"/><rect x="1440.167" y="899.500" width="1.6667" height="6.167"/><rect x="1440.167" y="890.667" width="1.6667" height="6.167"/><rect x="1440.167" y="881.833" width="1.6667" height="6.167"/><rect x="1440.167" y="873.000" width="1.6667" height="6.167"/><rect x="1440.167" y="864.167" width="1.6667" height="6.167"/><rect x="1440.167" y="855.333" width="1.6667" height="6.167"/><rect x="1440.167" y="846.500" width="1.6667" height="6.167"/><rect x="1440.167" y="837.667" width="1.6667" height="6.167"/><rect x="1440.167" y="828.833" width="1.6667" height="6.167"/><rect x="1440.167" y="820.000" width="1.6667" height="6.167"/><rect x="1440.167" y="811.167" width="1.6667" height="6.167"/><rect x="1440.167" y="802.333" width="1.6667" height="6.167"/><rect x="1440.167" y="793.500" width="1.6667" height="6.167"/><rect x="1440.167" y="784.667" width="1.6667" height="6.167"/><rect x="1440.167" y="775.833" width="1.6667" height="6.167"/><rect x="1440.167" y="767.000" width="1.6667" height="6.167"/><rect x="1440.167" y="758.167" width="1.6667" height="6.167"/><rect x="1440.167" y="749.333" width="1.6667" height="6.167"/><rect x="1440.167" y="740.500" width="1.6667" height="6.167"/><rect x="1440.167" y="731.667" width="1.6667" height="6.167"/><rect x="1440.167" y="722.833" width="1.6667" height="6.167"/><rect x="1440.167" y="714.000" width="1.6667" height="6.167"/><rect x="1440.167" y="705.167" width="1.6667" height="6.167"/><rect x="1440.167" y="696.333" width="1.6667" height="6.167"/><rect x="1440.167" y="687.500" width="1.6667" height="6.167"/><rect x="1440.167" y="678.667" width="1.6667" height="6.167"/><rect x="1440.167" y="669.833" width="1.6667" height="6.167"/><rect x="1440.167" y="661.000" width="1.6667" height="6.167"/><rect x="1440.167" y="652.167" width="1.6667" height="6.167"/><rect x="1440.167" y="643.333" width="1.6667" height="6.167"/><rect x="1440.167" y="634.500" width="1.6667" height="6.167"/><rect x="1440.167" y="625.667" width="1.6667" height="6.167"/><rect x="1440.167" y="616.833" width="1.6667" height="6.167"/><rect x="1440.167" y="608.000" width="1.6667" height="6.167"/><rect x="1440.167" y="599.167" width="1.6667" height="6.167"/><rect x="1440.167" y="590.333" width="1.6667" height="6.167"/><rect x="1440.167" y="581.500" width="1.6667" height="6.167"/><rect x="1440.167" y="572.667" width="1.6667" height="6.167"/><rect x="1440.167" y="563.833" width="1.6667" height="6.167"/><rect x="1440.167" y="555.000" width="1.6667" height="6.167"/><rect x="1440.167" y="546.167" width="1.6667" height="6.167"/><rect x="1440.167" y="537.333" width="1.6667" height="6.167"/><rect x="1440.167" y="528.500" width="1.6667" height="6.167"/><rect x="1440.167" y="519.667" width="1.6667" height="6.167"/><rect x="1440.167" y="510.833" width="1.6667" height="6.167"/><rect x="1440.167" y="502.000" width="1.6667" height="6.167"/><rect x="1440.167" y="493.167" width="1.6667" height="6.167"/><rect x="1440.167" y="484.333" width="1.6667" height="6.167"/><rect x="1440.167" y="475.500" width="1.6667" height="6.167"/><rect x="1440.167" y="466.667" width="1.6667" height="6.167"/><rect x="1440.167" y="457.833" width="1.6667" height="6.167"/><rect x="1440.167" y="449.000" width="1.6667" height="6.167"/><rect x="1440.167" y="440.167" width="1.6667" height="6.167"/><rect x="1440.167" y="431.333" width="1.6667" height="6.167"/><rect x="1440.167" y="422.500" width="1.6667" height="6.167"/><rect x="1440.167" y="413.667" width="1.6667" height="6.167"/><rect x="1440.167" y="404.833" width="1.6667" height="6.167"/><rect x="1440.167" y="396.000" width="1.6667" height="6.167"/><rect x="1440.167" y="387.167" width="1.6667" height="6.167"/><rect x="1440.167" y="378.333" width="1.6667" height="6.167"/><rect x="1440.167" y="369.500" width="1.6667" height="6.167"/><rect x="1440.167" y="360.667" width="1.6667" height="6.167"/><rect x="1440.167" y="351.833" width="1.6667" height="6.167"/><rect x="1440.167" y="343.000" width="1.6667" height="6.167"/><rect x="1440.167" y="334.167" width="1.6667" height="6.167"/><rect x="1440.167" y="325.333" width="1.6667" height="6.167"/><rect x="1440.167" y="316.500" width="1.6667" height="6.167"/><rect x="1440.167" y="307.667" width="1.6667" height="6.167"/><rect x="1440.167" y="298.833" width="1.6667" height="6.167"/><rect x="1440.167" y="290.000" width="1.6667" height="6.167"/><rect x="1440.167" y="281.167" width="1.6667" height="6.167"/><rect x="1440.167" y="272.333" width="1.6667" height="6.167"/><rect x="1440.167" y="263.500" width="1.6667" height="6.167"/><rect x="1440.167" y="254.667" width="1.6667" height="6.167"/><rect x="1440.167" y="245.833" width="1.6667" height="6.167"/><rect x="1440.167" y="237.000" width="1.6667" height="6.167"/><rect x="1440.167" y="228.167" width="1.6667" height="6.167"/><rect x="1440.167" y="219.333" width="1.6667" height="6.167"/><rect x="1440.167" y="210.500" width="1.6667" height="6.167"/><rect x="1440.167" y="201.667" width="1.6667" height="6.167"/><rect x="1440.167" y="192.833" width="1.6667" height="6.167"/><rect x="1440.167" y="184.000" width="1.6667" height="6.167"/><rect x="1440.167" y="175.167" width="1.6667" height="6.167"/><rect x="1440.167" y="166.333" width="1.6667" height="6.167"/><rect x="1440.167" y="157.500" width="1.6667" height="6.167"/><rect x="1440.167" y="148.667" width="1.6667" height="6.167"/><rect x="1440.167" y="139.833" width="1.6667" height="6.167"/><rect x="1440.167" y="131.000" width="1.6667" height="6.167"/><rect x="1440.167" y="122.167" width="1.6667" height="6.167"/><rect x="1440.167" y="113.333" width="1.6667" height="6.167"/><rect x="1440.167" y="104.500" width="1.6667" height="6.167"/><rect x="1440.167" y="95.667" width="1.6667" height="6.167"/><rect x="1440.167" y="86.833" width="1.6667" height="6.167"/><rect x="1440.167" y="78.000" width="1.6667" height="6.167"/><rect x="1440.167" y="70.000" width="1.6667" height="5.333"/><rect x="1620.167" y="987.833" width="1.6667" height="6.167"/><rect x="1620.167" y="979.000" width="1.6667" height="6.167"/><rect x="1620.167" y="970.167" width="1.6667" height="6.167"/><rect x="1620.167" y="961.333" width="1.6667" height="6.167"/><rect x="1620.167" y="952.500" width="1.6667" height="6.167"/><rect x="1620.167" y="943.667" width="1.6667" height="6.167"/><rect x="1620.167" y="934.833" width="1.6667" height="6.167"/><rect x="1620.167" y="926.000" width="1.6667" height="6.167"/><rect x="1620.167" y="917.167" width="1.6667" height="6.167"/><rect x="1620.167" y="908.333" width="1.6667" height="6.167"/><rect x="1620.167" y="899.500" width="1.6667" height="6.167"/><rect x="1620.167" y="890.667" width="1.6667" height="6.167"/><rect x="1620.167" y="881.833" width="1.6667" height="6.167"/><rect x="1620.167" y="873.000" width="1.6667" height="6.167"/><rect x="1620.167" y="864.167" width="1.6667" height="6.167"/><rect x="1620.167" y="855.333" width="1.6667" height="6.167"/><rect x="1620.167" y="846.500" width="1.6667" height="6.167"/><rect x="1620.167" y="837.667" width="1.6667" height="6.167"/><rect x="1620.167" y="828.833" width="1.6667" height="6.167"/><rect x="1620.167" y="820.000" width="1.6667" height="6.167"/><rect x="1620.167" y="811.167" width="1.6667" height="6.167"/><rect x="1620.167" y="802.333" width="1.6667" height="6.167"/><rect x="1620.167" y="793.500" width="1.6667" height="6.167"/><rect x="1620.167" y="784.667" width="1.6667" height="6.167"/><rect x="1620.167" y="775.833" width="1.6667" height="6.167"/><rect x="1620.167" y="767.000" width="1.6667" height="6.167"/><rect x="1620.167" y="758.167" width="1.6667" height="6.167"/><rect x="1620.167" y="749.333" width="1.6667" height="6.167"/><rect x="1620.167" y="740.500" width="1.6667" height="6.167"/><rect x="1620.167" y="731.667" width="1.6667" height="6.167"/><rect x="1620.167" y="722.833" width="1.6667" height="6.167"/><rect x="1620.167" y="714.000" width="1.6667" height="6.167"/><rect x="1620.167" y="705.167" width="1.6667" height="6.167"/><rect x="1620.167" y="696.333" width="1.6667" height="6.167"/><rect x="1620.167" y="687.500" width="1.6667" height="6.167"/><rect x="1620.167" y="678.667" width="1.6667" height="6.167"/><rect x="1620.167" y="669.833" width="1.6667" height="6.167"/><rect x="1620.167" y="661.000" width="1.6667" height="6.167"/><rect x="1620.167" y="652.167" width="1.6667" height="6.167"/><rect x="1620.167" y="643.333" width="1.6667" height="6.167"/><rect x="1620.167" y="634.500" width="1.6667" height="6.167"/><rect x="1620.167" y="625.667" width="1.6667" height="6.167"/><rect x="1620.167" y="616.833" width="1.6667" height="6.167"/><rect x="1620.167" y="608.000" width="1.6667" height="6.167"/><rect x="1620.167" y="599.167" width="1.6667" height="6.167"/><rect x="1620.167" y="590.333" width="1.6667" height="6.167"/><rect x="1620.167" y="581.500" width="1.6667" height="6.167"/><rect x="1620.167" y="572.667" width="1.6667" height="6.167"/><rect x="1620.167" y="563.833" width="1.6667" height="6.167"/><rect x="1620.167" y="555.000" width="1.6667" height="6.167"/><rect x="1620.167" y="546.167" width="1.6667" height="6.167"/><rect x="1620.167" y="537.333" width="1.6667" height="6.167"/><rect x="1620.167" y="528.500" width="1.6667" height="6.167"/><rect x="1620.167" y="519.667" width="1.6667" height="6.167"/><rect x="1620.167" y="510.833" width="1.6667" height="6.167"/><rect x="1620.167" y="502.000" width="1.6667" height="6.167"/><rect x="1620.167" y="493.167" width="1.6667" height="6.167"/><rect x="1620.167" y="484.333" width="1.6667" height="6.167"/><rect x="1620.167" y="475.500" width="1.6667" height="6.167"/><rect x="1620.167" y="466.667" width="1.6667" height="6.167"/><rect x="1620.167" y="457.833" width="1.6667" height="6.167"/><rect x="1620.167" y="449.000" width="1.6667" height="6.167"/><rect x="1620.167" y="440.167" width="1.6667" height="6.167"/><rect x="1620.167" y="431.333" width="1.6667" height="6.167"/><rect x="1620.167" y="422.500" width="1.6667" height="6.167"/><rect x="1620.167" y="413.667" width="1.6667" height="6.167"/><rect x="1620.167" y="404.833" width="1.6667" height="6.167"/><rect x="1620.167" y="396.000" width="1.6667" height="6.167"/><rect x="1620.167" y="387.167" width="1.6667" height="6.167"/><rect x="1620.167" y="378.333" width="1.6667" height="6.167"/><rect x="1620.167" y="369.500" width="1.6667" height="6.167"/><rect x="1620.167" y="360.667" width="1.6667" height="6.167"/><rect x="1620.167" y="351.833" width="1.6667" height="6.167"/><rect x="1620.167" y="343.000" width="1.6667" height="6.167"/><rect x="1620.167" y="334.167" width="1.6667" height="6.167"/><rect x="1620.167" y="325.333" width="1.6667" height="6.167"/><rect x="1620.167" y="316.500" width="1.6667" height="6.167"/><rect x="1620.167" y="307.667" width="1.6667" height="6.167"/><rect x="1620.167" y="298.833" width="1.6667" height="6.167"/><rect x="1620.167" y="290.000" width="1.6667" height="6.167"/><rect x="1620.167" y="281.167" width="1.6667" height="6.167"/><rect x="1620.167" y="272.333" width="1.6667" height="6.167"/><rect x="1620.167" y="263.500" width="1.6667" height="6.167"/><rect x="1620.167" y="254.667" width="1.6667" height="6.167"/><rect x="1620.167" y="245.833" width="1.6667" height="6.167"/><rect x="1620.167" y="237.000" width="1.6667" height="6.167"/><rect x="1620.167" y="228.167" width="1.6667" height="6.167"/><rect x="1620.167" y="219.333" width="1.6667" height="6.167"/><rect x="1620.167" y="210.500" width="1.6667" height="6.167"/><rect x="1620.167" y="201.667" width="1.6667" height="6.167"/><rect x="1620.167" y="192.833" width="1.6667" height="6.167"/><rect x="1620.167" y="184.000" width="1.6667" height="6.167"/><rect x="1620.167" y="175.167" width="1.6667" height="6.167"/><rect x="1620.167" y="166.333" width="1.6667" height="6.167"/><rect x="1620.167" y="157.500" width="1.6667" height="6.167"/><rect x="1620.167" y="148.667" width="1.6667" height="6.167"/><rect x="1620.167" y="139.833" width="1.6667" height="6.167"/><rect x="1620.167" y="131.000" width="1.6667" height="6.167"/><rect x="1620.167" y="122.167" width="1.6667" height="6.167"/><rect x="1620.167" y="113.333" width="1.6667" height="6.167"/><rect x="1620.167" y="104.500" width="1.6667" height="6.167"/><rect x="1620.167" y="95.667" width="1.6667" height="6.167"/><rect x="1620.167" y="86.833" width="1.6667" height="6.167"/><rect x="1620.167" y="78.000" width="1.6667" height="6.167"/><rect x="1620.167" y="70.000" width="1.6667" height="5.333"/><rect x="127.000" y="869.167" width="6.167" height="1.6667"/><rect x="135.833" y="869.167" width="6.167" height="1.6667"/><rect x="144.667" y="869.167" width="6.167" height="1.6667"/><rect x="153.500" y="869.167" width="6.167" height="1.6667"/><rect x="162.333" y="869.167" width="6.167" height="1.6667"/><rect x="171.167" y="869.167" width="6.167" height="1.6667"/><rect x="180.000" y="869.167" width="6.167" height="1.6667"/><rect x="188.833" y="869.167" width="6.167" height="1.6667"/><rect x="197.667" y="869.167" width="6.167" height="1.6667"/><rect x="206.500" y="869.167" width="6.167" height="1.6667"/><rect x="215.333" y="869.167" width="6.167" height="1.6667"/><rect x="224.167" y="869.167" width="6.167" height="1.6667"/><rect x="233.000" y="869.167" width="6.167" height="1.6667"/><rect x="241.833" y="869.167" width="6.167" height="1.6667"/><rect x="250.667" y="869.167" width="6.167" height="1.6667"/><rect x="259.500" y="869.167" width="6.167" height="1.6667"/><rect x="268.333" y="869.167" width="6.167" height="1.6667"/><rect x="277.167" y="869.167" width="6.167" height="1.6667"/><rect x="286.000" y="869.167" width="6.167" height="1.6667"/><rect x="294.833" y="869.167" width="6.167" height="1.6667"/><rect x="303.667" y="869.167" width="6.167" height="1.6667"/><rect x="312.500" y="869.167" width="6.167" height="1.6667"/><rect x="321.333" y="869.167" width="6.167" height="1.6667"/><rect x="330.167" y="869.167" width="6.167" height="1.6667"/><rect x="339.000" y="869.167" width="6.167" height="1.6667"/><rect x="347.833" y="869.167" width="6.167" height="1.6667"/><rect x="356.667" y="869.167" width="6.167" height="1.6667"/><rect x="365.500" y="869.167" width="6.167" height="1.6667"/><rect x="374.333" y="869.167" width="6.167" height="1.6667"/><rect x="383.167" y="869.167" width="6.167" height="1.6667"/><rect x="392.000" y="869.167" width="6.167" height="1.6667"/><rect x="400.833" y="869.167" width="6.167" height="1.6667"/><rect x="409.667" y="869.167" width="6.167" height="1.6667"/><rect x="418.500" y="869.167" width="6.167" height="1.6667"/><rect x="427.333" y="869.167" width="6.167" height="1.6667"/><rect x="436.167" y="869.167" width="6.167" height="1.6667"/><rect x="445.000" y="869.167" width="6.167" height="1.6667"/><rect x="453.833" y="869.167" width="6.167" height="1.6667"/><rect x="462.667" y="869.167" width="6.167" height="1.6667"/><rect x="471.500" y="869.167" width="6.167" height="1.6667"/><rect x="480.333" y="869.167" width="6.167" height="1.6667"/><rect x="489.167" y="869.167" width="6.167" height="1.6667"/><rect x="498.000" y="869.167" width="6.167" height="1.6667"/><rect x="506.833" y="869.167" width="6.167" height="1.6667"/><rect x="515.667" y="869.167" width="6.167" height="1.6667"/><rect x="524.500" y="869.167" width="6.167" height="1.6667"/><rect x="533.333" y="869.167" width="6.167" height="1.6667"/><rect x="542.167" y="869.167" width="6.167" height="1.6667"/><rect x="551.000" y="869.167" width="6.167" height="1.6667"/><rect x="559.833" y="869.167" width="6.167" height="1.6667"/><rect x="568.667" y="869.167" width="6.167" height="1.6667"/><rect x="577.500" y="869.167" width="6.167" height="1.6667"/><rect x="586.333" y="869.167" width="6.167" height="1.6667"/><rect x="595.167" y="869.167" width="6.167" height="1.6667"/><rect x="604.000" y="869.167" width="6.167" height="1.6667"/><rect x="612.833" y="869.167" width="6.167" height="1.6667"/><rect x="621.667" y="869.167" width="6.167" height="1.6667"/><rect x="630.500" y="869.167" width="6.167" height="1.6667"/><rect x="639.333" y="869.167" width="6.167" height="1.6667"/><rect x="648.167" y="869.167" width="6.167" height="1.6667"/><rect x="657.000" y="869.167" width="6.167" height="1.6667"/><rect x="665.833" y="869.167" width="6.167" height="1.6667"/><rect x="674.667" y="869.167" width="6.167" height="1.6667"/><rect x="683.500" y="869.167" width="6.167" height="1.6667"/><rect x="692.333" y="869.167" width="6.167" height="1.6667"/><rect x="701.167" y="869.167" width="6.167" height="1.6667"/><rect x="710.000" y="869.167" width="6.167" height="1.6667"/><rect x="718.833" y="869.167" width="6.167" height="1.6667"/><rect x="727.667" y="869.167" width="6.167" height="1.6667"/><rect x="736.500" y="869.167" width="6.167" height="1.6667"/><rect x="745.333" y="869.167" width="6.167" height="1.6667"/><rect x="754.167" y="869.167" width="6.167" height="1.6667"/><rect x="763.000" y="869.167" width="6.167" height="1.6667"/><rect x="771.833" y="869.167" width="6.167" height="1.6667"/><rect x="780.667" y="869.167" width="6.167" height="1.6667"/><rect x="789.500" y="869.167" width="6.167" height="1.6667"/><rect x="798.333" y="869.167" width="6.167" height="1.6667"/><rect x="807.167" y="869.167" width="6.167" height="1.6667"/><rect x="816.000" y="869.167" width="6.167" height="1.6667"/><rect x="824.833" y="869.167" width="6.167" height="1.6667"/><rect x="833.667" y="869.167" width="6.167" height="1.6667"/><rect x="842.500" y="869.167" width="6.167" height="1.6667"/><rect x="851.333" y="869.167" width="6.167" height="1.6667"/><rect x="860.167" y="869.167" width="6.167" height="1.6667"/><rect x="869.000" y="869.167" width="6.167" height="1.6667"/><rect x="877.833" y="869.167" width="6.167" height="1.6667"/><rect x="886.667" y="869.167" width="6.167" height="1.6667"/><rect x="895.500" y="869.167" width="6.167" height="1.6667"/><rect x="904.333" y="869.167" width="6.167" height="1.6667"/><rect x="913.167" y="869.167" width="6.167" height="1.6667"/><rect x="922.000" y="869.167" width="6.167" height="1.6667"/><rect x="930.833" y="869.167" width="6.167" height="1.6667"/><rect x="939.667" y="869.167" width="6.167" height="1.6667"/><rect x="948.500" y="869.167" width="6.167" height="1.6667"/><rect x="957.333" y="869.167" width="6.167" height="1.6667"/><rect x="966.167" y="869.167" width="6.167" height="1.6667"/><rect x="975.000" y="869.167" width="6.167" height="1.6667"/><rect x="983.833" y="869.167" width="6.167" height="1.6667"/><rect x="992.667" y="869.167" width="6.167" height="1.6667"/><rect x="1001.500" y="869.167" width="6.167" height="1.6667"/><rect x="1010.333" y="869.167" width="6.167" height="1.6667"/><rect x="1019.167" y="869.167" width="6.167" height="1.6667"/><rect x="1028.000" y="869.167" width="6.167" height="1.6667"/><rect x="1036.833" y="869.167" width="6.167" height="1.6667"/><rect x="1045.667" y="869.167" width="6.167" height="1.6667"/><rect x="1054.500" y="869.167" width="6.167" height="1.6667"/><rect x="1063.333" y="869.167" width="6.167" height="1.6667"/><rect x="1072.167" y="869.167" width="6.167" height="1.6667"/><rect x="1081.000" y="869.167" width="6.167" height="1.6667"/><rect x="1089.833" y="869.167" width="6.167" height="1.6667"/><rect x="1098.667" y="869.167" width="6.167" height="1.6667"/><rect x="1107.500" y="869.167" width="6.167" height="1.6667"/><rect x="1116.333" y="869.167" width="6.167" height="1.6667"/><rect x="1125.167" y="869.167" width="6.167" height="1.6667"/><rect x="1134.000" y="869.167" width="6.167" height="1.6667"/><rect x="1142.833" y="869.167" width="6.167" height="1.6667"/><rect x="1151.667" y="869.167" width="6.167" height="1.6667"/><rect x="1160.500" y="869.167" width="6.167" height="1.6667"/><rect x="1169.333" y="869.167" width="6.167" height="1.6667"/><rect x="1178.167" y="869.167" width="6.167" height="1.6667"/><rect x="1187.000" y="869.167" width="6.167" height="1.6667"/><rect x="1195.833" y="869.167" width="6.167" height="1.6667"/><rect x="1204.667" y="869.167" width="6.167" height="1.6667"/><rect x="1213.500" y="869.167" width="6.167" height="1.6667"/><rect x="1222.333" y="869.167" width="6.167" height="1.6667"/><rect x="1231.167" y="869.167" width="6.167" height="1.6667"/><rect x="1240.000" y="869.167" width="6.167" height="1.6667"/><rect x="1248.833" y="869.167" width="6.167" height="1.6667"/><rect x="1257.667" y="869.167" width="6.167" height="1.6667"/><rect x="1266.500" y="869.167" width="6.167" height="1.6667"/><rect x="1275.333" y="869.167" width="6.167" height="1.6667"/><rect x="1284.167" y="869.167" width="6.167" height="1.6667"/><rect x="1293.000" y="869.167" width="6.167" height="1.6667"/><rect x="1301.833" y="869.167" width="6.167" height="1.6667"/><rect x="1310.667" y="869.167" width="6.167" height="1.6667"/><rect x="1319.500" y="869.167" width="6.167" height="1.6667"/><rect x="1328.333" y="869.167" width="6.167" height="1.6667"/><rect x="1337.167" y="869.167" width="6.167" height="1.6667"/><rect x="1346.000" y="869.167" width="6.167" height="1.6667"/><rect x="1354.833" y="869.167" width="6.167" height="1.6667"/><rect x="1363.667" y="869.167" width="6.167" height="1.6667"/><rect x="1372.500" y="869.167" width="6.167" height="1.6667"/><rect x="1381.333" y="869.167" width="6.167" height="1.6667"/><rect x="1390.167" y="869.167" width="6.167" height="1.6667"/><rect x="1399.000" y="869.167" width="6.167" height="1.6667"/><rect x="1407.833" y="869.167" width="6.167" height="1.6667"/><rect x="1416.667" y="869.167" width="6.167" height="1.6667"/><rect x="1425.500" y="869.167" width="6.167" height="1.6667"/><rect x="1434.333" y="869.167" width="6.167" height="1.6667"/><rect x="1443.167" y="869.167" width="6.167" height="1.6667"/><rect x="1452.000" y="869.167" width="6.167" height="1.6667"/><rect x="1460.833" y="869.167" width="6.167" height="1.6667"/><rect x="1469.667" y="869.167" width="6.167" height="1.6667"/><rect x="1478.500" y="869.167" width="6.167" height="1.6667"/><rect x="1487.333" y="869.167" width="6.167" height="1.6667"/><rect x="1496.167" y="869.167" width="6.167" height="1.6667"/><rect x="1505.000" y="869.167" width="6.167" height="1.6667"/><rect x="1513.833" y="869.167" width="6.167" height="1.6667"/><rect x="1522.667" y="869.167" width="6.167" height="1.6667"/><rect x="1531.500" y="869.167" width="6.167" height="1.6667"/><rect x="1540.333" y="869.167" width="6.167" height="1.6667"/><rect x="1549.167" y="869.167" width="6.167" height="1.6667"/><rect x="1558.000" y="869.167" width="6.167" height="1.6667"/><rect x="1566.833" y="869.167" width="6.167" height="1.6667"/><rect x="1575.667" y="869.167" width="6.167" height="1.6667"/><rect x="1584.500" y="869.167" width="6.167" height="1.6667"/><rect x="1593.333" y="869.167" width="6.167" height="1.6667"/><rect x="1602.167" y="869.167" width="6.167" height="1.6667"/><rect x="1611.000" y="869.167" width="6.167" height="1.6667"/><rect x="1619.833" y="869.167" width="6.167" height="1.6667"/><rect x="1628.667" y="869.167" width="6.167" height="1.6667"/><rect x="1637.500" y="869.167" width="6.167" height="1.6667"/><rect x="1646.333" y="869.167" width="6.167" height="1.6667"/><rect x="1655.167" y="869.167" width="6.167" height="1.6667"/><rect x="1664.000" y="869.167" width="6.167" height="1.6667"/><rect x="1672.833" y="869.167" width="4.167" height="1.6667"/><rect x="127.000" y="680.167" width="6.167" height="1.6667"/><rect x="135.833" y="680.167" width="6.167" height="1.6667"/><rect x="144.667" y="680.167" width="6.167" height="1.6667"/><rect x="153.500" y="680.167" width="6.167" height="1.6667"/><rect x="162.333" y="680.167" width="6.167" height="1.6667"/><rect x="171.167" y="680.167" width="6.167" height="1.6667"/><rect x="180.000" y="680.167" width="6.167" height="1.6667"/><rect x="188.833" y="680.167" width="6.167" height="1.6667"/><rect x="197.667" y="680.167" width="6.167" height="1.6667"/><rect x="206.500" y="680.167" width="6.167" height="1.6667"/><rect x="215.333" y="680.167" width="6.167" height="1.6667"/><rect x="224.167" y="680.167" width="6.167" height="1.6667"/><rect x="233.000" y="680.167" width="6.167" height="1.6667"/><rect x="241.833" y="680.167" width="6.167" height="1.6667"/><rect x="250.667" y="680.167" width="6.167" height="1.6667"/><rect x="259.500" y="680.167" width="6.167" height="1.6667"/><rect x="268.333" y="680.167" width="6.167" height="1.6667"/><rect x="277.167" y="680.167" width="6.167" height="1.6667"/><rect x="286.000" y="680.167" width="6.167" height="1.6667"/><rect x="294.833" y="680.167" width="6.167" height="1.6667"/><rect x="303.667" y="680.167" width="6.167" height="1.6667"/><rect x="312.500" y="680.167" width="6.167" height="1.6667"/><rect x="321.333" y="680.167" width="6.167" height="1.6667"/><rect x="330.167" y="680.167" width="6.167" height="1.6667"/><rect x="339.000" y="680.167" width="6.167" height="1.6667"/><rect x="347.833" y="680.167" width="6.167" height="1.6667"/><rect x="356.667" y="680.167" width="6.167" height="1.6667"/><rect x="365.500" y="680.167" width="6.167" height="1.6667"/><rect x="374.333" y="680.167" width="6.167" height="1.6667"/><rect x="383.167" y="680.167" width="6.167" height="1.6667"/><rect x="392.000" y="680.167" width="6.167" height="1.6667"/><rect x="400.833" y="680.167" width="6.167" height="1.6667"/><rect x="409.667" y="680.167" width="6.167" height="1.6667"/><rect x="418.500" y="680.167" width="6.167" height="1.6667"/><rect x="427.333" y="680.167" width="6.167" height="1.6667"/><rect x="436.167" y="680.167" width="6.167" height="1.6667"/><rect x="445.000" y="680.167" width="6.167" height="1.6667"/><rect x="453.833" y="680.167" width="6.167" height="1.6667"/><rect x="462.667" y="680.167" width="6.167" height="1.6667"/><rect x="471.500" y="680.167" width="6.167" height="1.6667"/><rect x="480.333" y="680.167" width="6.167" height="1.6667"/><rect x="489.167" y="680.167" width="6.167" height="1.6667"/><rect x="498.000" y="680.167" width="6.167" height="1.6667"/><rect x="506.833" y="680.167" width="6.167" height="1.6667"/><rect x="515.667" y="680.167" width="6.167" height="1.6667"/><rect x="524.500" y="680.167" width="6.167" height="1.6667"/><rect x="533.333" y="680.167" width="6.167" height="1.6667"/><rect x="542.167" y="680.167" width="6.167" height="1.6667"/><rect x="551.000" y="680.167" width="6.167" height="1.6667"/><rect x="559.833" y="680.167" width="6.167" height="1.6667"/><rect x="568.667" y="680.167" width="6.167" height="1.6667"/><rect x="577.500" y="680.167" width="6.167" height="1.6667"/><rect x="586.333" y="680.167" width="6.167" height="1.6667"/><rect x="595.167" y="680.167" width="6.167" height="1.6667"/><rect x="604.000" y="680.167" width="6.167" height="1.6667"/><rect x="612.833" y="680.167" width="6.167" height="1.6667"/><rect x="621.667" y="680.167" width="6.167" height="1.6667"/><rect x="630.500" y="680.167" width="6.167" height="1.6667"/><rect x="639.333" y="680.167" width="6.167" height="1.6667"/><rect x="648.167" y="680.167" width="6.167" height="1.6667"/><rect x="657.000" y="680.167" width="6.167" height="1.6667"/><rect x="665.833" y="680.167" width="6.167" height="1.6667"/><rect x="674.667" y="680.167" width="6.167" height="1.6667"/><rect x="683.500" y="680.167" width="6.167" height="1.6667"/><rect x="692.333" y="680.167" width="6.167" height="1.6667"/><rect x="701.167" y="680.167" width="6.167" height="1.6667"/><rect x="710.000" y="680.167" width="6.167" height="1.6667"/><rect x="718.833" y="680.167" width="6.167" height="1.6667"/><rect x="727.667" y="680.167" width="6.167" height="1.6667"/><rect x="736.500" y="680.167" width="6.167" height="1.6667"/><rect x="745.333" y="680.167" width="6.167" height="1.6667"/><rect x="754.167" y="680.167" width="6.167" height="1.6667"/><rect x="763.000" y="680.167" width="6.167" height="1.6667"/><rect x="771.833" y="680.167" width="6.167" height="1.6667"/><rect x="780.667" y="680.167" width="6.167" height="1.6667"/><rect x="789.500" y="680.167" width="6.167" height="1.6667"/><rect x="798.333" y="680.167" width="6.167" height="1.6667"/><rect x="807.167" y="680.167" width="6.167" height="1.6667"/><rect x="816.000" y="680.167" width="6.167" height="1.6667"/><rect x="824.833" y="680.167" width="6.167" height="1.6667"/><rect x="833.667" y="680.167" width="6.167" height="1.6667"/><rect x="842.500" y="680.167" width="6.167" height="1.6667"/><rect x="851.333" y="680.167" width="6.167" height="1.6667"/><rect x="860.167" y="680.167" width="6.167" height="1.6667"/><rect x="869.000" y="680.167" width="6.167" height="1.6667"/><rect x="877.833" y="680.167" width="6.167" height="1.6667"/><rect x="886.667" y="680.167" width="6.167" height="1.6667"/><rect x="895.500" y="680.167" width="6.167" height="1.6667"/><rect x="904.333" y="680.167" width="6.167" height="1.6667"/><rect x="913.167" y="680.167" width="6.167" height="1.6667"/><rect x="922.000" y="680.167" width="6.167" height="1.6667"/><rect x="930.833" y="680.167" width="6.167" height="1.6667"/><rect x="939.667" y="680.167" width="6.167" height="1.6667"/><rect x="948.500" y="680.167" width="6.167" height="1.6667"/><rect x="957.333" y="680.167" width="6.167" height="1.6667"/><rect x="966.167" y="680.167" width="6.167" height="1.6667"/><rect x="975.000" y="680.167" width="6.167" height="1.6667"/><rect x="983.833" y="680.167" width="6.167" height="1.6667"/><rect x="992.667" y="680.167" width="6.167" height="1.6667"/><rect x="1001.500" y="680.167" width="6.167" height="1.6667"/><rect x="1010.333" y="680.167" width="6.167" height="1.6667"/><rect x="1019.167" y="680.167" width="6.167" height="1.6667"/><rect x="1028.000" y="680.167" width="6.167" height="1.6667"/><rect x="1036.833" y="680.167" width="6.167" height="1.6667"/><rect x="1045.667" y="680.167" width="6.167" height="1.6667"/><rect x="1054.500" y="680.167" width="6.167" height="1.6667"/><rect x="1063.333" y="680.167" width="6.167" height="1.6667"/><rect x="1072.167" y="680.167" width="6.167" height="1.6667"/><rect x="1081.000" y="680.167" width="6.167" height="1.6667"/><rect x="1089.833" y="680.167" width="6.167" height="1.6667"/><rect x="1098.667" y="680.167" width="6.167" height="1.6667"/><rect x="1107.500" y="680.167" width="6.167" height="1.6667"/><rect x="1116.333" y="680.167" width="6.167" height="1.6667"/><rect x="1125.167" y="680.167" width="6.167" height="1.6667"/><rect x="1134.000" y="680.167" width="6.167" height="1.6667"/><rect x="1142.833" y="680.167" width="6.167" height="1.6667"/><rect x="1151.667" y="680.167" width="6.167" height="1.6667"/><rect x="1160.500" y="680.167" width="6.167" height="1.6667"/><rect x="1169.333" y="680.167" width="6.167" height="1.6667"/><rect x="1178.167" y="680.167" width="6.167" height="1.6667"/><rect x="1187.000" y="680.167" width="6.167" height="1.6667"/><rect x="1195.833" y="680.167" width="6.167" height="1.6667"/><rect x="1204.667" y="680.167" width="6.167" height="1.6667"/><rect x="1213.500" y="680.167" width="6.167" height="1.6667"/><rect x="1222.333" y="680.167" width="6.167" height="1.6667"/><rect x="1231.167" y="680.167" width="6.167" height="1.6667"/><rect x="1240.000" y="680.167" width="6.167" height="1.6667"/><rect x="1248.833" y="680.167" width="6.167" height="1.6667"/><rect x="1257.667" y="680.167" width="6.167" height="1.6667"/><rect x="1266.500" y="680.167" width="6.167" height="1.6667"/><rect x="1275.333" y="680.167" width="6.167" height="1.6667"/><rect x="1284.167" y="680.167" width="6.167" height="1.6667"/><rect x="1293.000" y="680.167" width="6.167" height="1.6667"/><rect x="1301.833" y="680.167" width="6.167" height="1.6667"/><rect x="1310.667" y="680.167" width="6.167" height="1.6667"/><rect x="1319.500" y="680.167" width="6.167" height="1.6667"/><rect x="1328.333" y="680.167" width="6.167" height="1.6667"/><rect x="1337.167" y="680.167" width="6.167" height="1.6667"/><rect x="1346.000" y="680.167" width="6.167" height="1.6667"/><rect x="1354.833" y="680.167" width="6.167" height="1.6667"/><rect x="1363.667" y="680.167" width="6.167" height="1.6667"/><rect x="1372.500" y="680.167" width="6.167" height="1.6667"/><rect x="1381.333" y="680.167" width="6.167" height="1.6667"/><rect x="1390.167" y="680.167" width="6.167" height="1.6667"/><rect x="1399.000" y="680.167" width="6.167" height="1.6667"/><rect x="1407.833" y="680.167" width="6.167" height="1.6667"/><rect x="1416.667" y="680.167" width="6.167" height="1.6667"/><rect x="1425.500" y="680.167" width="6.167" height="1.6667"/><rect x="1434.333" y="680.167" width="6.167" height="1.6667"/><rect x="1443.167" y="680.167" width="6.167" height="1.6667"/><rect x="1452.000" y="680.167" width="6.167" height="1.6667"/><rect x="1460.833" y="680.167" width="6.167" height="1.6667"/><rect x="1469.667" y="680.167" width="6.167" height="1.6667"/><rect x="1478.500" y="680.167" width="6.167" height="1.6667"/><rect x="1487.333" y="680.167" width="6.167" height="1.6667"/><rect x="1496.167" y="680.167" width="6.167" height="1.6667"/><rect x="1505.000" y="680.167" width="6.167" height="1.6667"/><rect x="1513.833" y="680.167" width="6.167" height="1.6667"/><rect x="1522.667" y="680.167" width="6.167" height="1.6667"/><rect x="1531.500" y="680.167" width="6.167" height="1.6667"/><rect x="1540.333" y="680.167" width="6.167" height="1.6667"/><rect x="1549.167" y="680.167" width="6.167" height="1.6667"/><rect x="1558.000" y="680.167" width="6.167" height="1.6667"/><rect x="1566.833" y="680.167" width="6.167" height="1.6667"/><rect x="1575.667" y="680.167" width="6.167" height="1.6667"/><rect x="1584.500" y="680.167" width="6.167" height="1.6667"/><rect x="1593.333" y="680.167" width="6.167" height="1.6667"/><rect x="1602.167" y="680.167" width="6.167" height="1.6667"/><rect x="1611.000" y="680.167" width="6.167" height="1.6667"/><rect x="1619.833" y="680.167" width="6.167" height="1.6667"/><rect x="1628.667" y="680.167" width="6.167" height="1.6667"/><rect x="1637.500" y="680.167" width="6.167" height="1.6667"/><rect x="1646.333" y="680.167" width="6.167" height="1.6667"/><rect x="1655.167" y="680.167" width="6.167" height="1.6667"/><rect x="1664.000" y="680.167" width="6.167" height="1.6667"/><rect x="1672.833" y="680.167" width="4.167" height="1.6667"/><rect x="127.000" y="490.167" width="6.167" height="1.6667"/><rect x="135.833" y="490.167" width="6.167" height="1.6667"/><rect x="144.667" y="490.167" width="6.167" height="1.6667"/><rect x="153.500" y="490.167" width="6.167" height="1.6667"/><rect x="162.333" y="490.167" width="6.167" height="1.6667"/><rect x="171.167" y="490.167" width="6.167" height="1.6667"/><rect x="180.000" y="490.167" width="6.167" height="1.6667"/><rect x="188.833" y="490.167" width="6.167" height="1.6667"/><rect x="197.667" y="490.167" width="6.167" height="1.6667"/><rect x="206.500" y="490.167" width="6.167" height="1.6667"/><rect x="215.333" y="490.167" width="6.167" height="1.6667"/><rect x="224.167" y="490.167" width="6.167" height="1.6667"/><rect x="233.000" y="490.167" width="6.167" height="1.6667"/><rect x="241.833" y="490.167" width="6.167" height="1.6667"/><rect x="250.667" y="490.167" width="6.167" height="1.6667"/><rect x="259.500" y="490.167" width="6.167" height="1.6667"/><rect x="268.333" y="490.167" width="6.167" height="1.6667"/><rect x="277.167" y="490.167" width="6.167" height="1.6667"/><rect x="286.000" y="490.167" width="6.167" height="1.6667"/><rect x="294.833" y="490.167" width="6.167" height="1.6667"/><rect x="303.667" y="490.167" width="6.167" height="1.6667"/><rect x="312.500" y="490.167" width="6.167" height="1.6667"/><rect x="321.333" y="490.167" width="6.167" height="1.6667"/><rect x="330.167" y="490.167" width="6.167" height="1.6667"/><rect x="339.000" y="490.167" width="6.167" height="1.6667"/><rect x="347.833" y="490.167" width="6.167" height="1.6667"/><rect x="356.667" y="490.167" width="6.167" height="1.6667"/><rect x="365.500" y="490.167" width="6.167" height="1.6667"/><rect x="374.333" y="490.167" width="6.167" height="1.6667"/><rect x="383.167" y="490.167" width="6.167" height="1.6667"/><rect x="392.000" y="490.167" width="6.167" height="1.6667"/><rect x="400.833" y="490.167" width="6.167" height="1.6667"/><rect x="409.667" y="490.167" width="6.167" height="1.6667"/><rect x="418.500" y="490.167" width="6.167" height="1.6667"/><rect x="427.333" y="490.167" width="6.167" height="1.6667"/><rect x="436.167" y="490.167" width="6.167" height="1.6667"/><rect x="445.000" y="490.167" width="6.167" height="1.6667"/><rect x="453.833" y="490.167" width="6.167" height="1.6667"/><rect x="462.667" y="490.167" width="6.167" height="1.6667"/><rect x="471.500" y="490.167" width="6.167" height="1.6667"/><rect x="480.333" y="490.167" width="6.167" height="1.6667"/><rect x="489.167" y="490.167" width="6.167" height="1.6667"/><rect x="498.000" y="490.167" width="6.167" height="1.6667"/><rect x="506.833" y="490.167" width="6.167" height="1.6667"/><rect x="515.667" y="490.167" width="6.167" height="1.6667"/><rect x="524.500" y="490.167" width="6.167" height="1.6667"/><rect x="533.333" y="490.167" width="6.167" height="1.6667"/><rect x="542.167" y="490.167" width="6.167" height="1.6667"/><rect x="551.000" y="490.167" width="6.167" height="1.6667"/><rect x="559.833" y="490.167" width="6.167" height="1.6667"/><rect x="568.667" y="490.167" width="6.167" height="1.6667"/><rect x="577.500" y="490.167" width="6.167" height="1.6667"/><rect x="586.333" y="490.167" width="6.167" height="1.6667"/><rect x="595.167" y="490.167" width="6.167" height="1.6667"/><rect x="604.000" y="490.167" width="6.167" height="1.6667"/><rect x="612.833" y="490.167" width="6.167" height="1.6667"/><rect x="621.667" y="490.167" width="6.167" height="1.6667"/><rect x="630.500" y="490.167" width="6.167" height="1.6667"/><rect x="639.333" y="490.167" width="6.167" height="1.6667"/><rect x="648.167" y="490.167" width="6.167" height="1.6667"/><rect x="657.000" y="490.167" width="6.167" height="1.6667"/><rect x="665.833" y="490.167" width="6.167" height="1.6667"/><rect x="674.667" y="490.167" width="6.167" height="1.6667"/><rect x="683.500" y="490.167" width="6.167" height="1.6667"/><rect x="692.333" y="490.167" width="6.167" height="1.6667"/><rect x="701.167" y="490.167" width="6.167" height="1.6667"/><rect x="710.000" y="490.167" width="6.167" height="1.6667"/><rect x="718.833" y="490.167" width="6.167" height="1.6667"/><rect x="727.667" y="490.167" width="6.167" height="1.6667"/><rect x="736.500" y="490.167" width="6.167" height="1.6667"/><rect x="745.333" y="490.167" width="6.167" height="1.6667"/><rect x="754.167" y="490.167" width="6.167" height="1.6667"/><rect x="763.000" y="490.167" width="6.167" height="1.6667"/><rect x="771.833" y="490.167" width="6.167" height="1.6667"/><rect x="780.667" y="490.167" width="6.167" height="1.6667"/><rect x="789.500" y="490.167" width="6.167" height="1.6667"/><rect x="798.333" y="490.167" width="6.167" height="1.6667"/><rect x="807.167" y="490.167" width="6.167" height="1.6667"/><rect x="816.000" y="490.167" width="6.167" height="1.6667"/><rect x="824.833" y="490.167" width="6.167" height="1.6667"/><rect x="833.667" y="490.167" width="6.167" height="1.6667"/><rect x="842.500" y="490.167" width="6.167" height="1.6667"/><rect x="851.333" y="490.167" width="6.167" height="1.6667"/><rect x="860.167" y="490.167" width="6.167" height="1.6667"/><rect x="869.000" y="490.167" width="6.167" height="1.6667"/><rect x="877.833" y="490.167" width="6.167" height="1.6667"/><rect x="886.667" y="490.167" width="6.167" height="1.6667"/><rect x="895.500" y="490.167" width="6.167" height="1.6667"/><rect x="904.333" y="490.167" width="6.167" height="1.6667"/><rect x="913.167" y="490.167" width="6.167" height="1.6667"/><rect x="922.000" y="490.167" width="6.167" height="1.6667"/><rect x="930.833" y="490.167" width="6.167" height="1.6667"/><rect x="939.667" y="490.167" width="6.167" height="1.6667"/><rect x="948.500" y="490.167" width="6.167" height="1.6667"/><rect x="957.333" y="490.167" width="6.167" height="1.6667"/><rect x="966.167" y="490.167" width="6.167" height="1.6667"/><rect x="975.000" y="490.167" width="6.167" height="1.6667"/><rect x="983.833" y="490.167" width="6.167" height="1.6667"/><rect x="992.667" y="490.167" width="6.167" height="1.6667"/><rect x="1001.500" y="490.167" width="6.167" height="1.6667"/><rect x="1010.333" y="490.167" width="6.167" height="1.6667"/><rect x="1019.167" y="490.167" width="6.167" height="1.6667"/><rect x="1028.000" y="490.167" width="6.167" height="1.6667"/><rect x="1036.833" y="490.167" width="6.167" height="1.6667"/><rect x="1045.667" y="490.167" width="6.167" height="1.6667"/><rect x="1054.500" y="490.167" width="6.167" height="1.6667"/><rect x="1063.333" y="490.167" width="6.167" height="1.6667"/><rect x="1072.167" y="490.167" width="6.167" height="1.6667"/><rect x="1081.000" y="490.167" width="6.167" height="1.6667"/><rect x="1089.833" y="490.167" width="6.167" height="1.6667"/><rect x="1098.667" y="490.167" width="6.167" height="1.6667"/><rect x="1107.500" y="490.167" width="6.167" height="1.6667"/><rect x="1116.333" y="490.167" width="6.167" height="1.6667"/><rect x="1125.167" y="490.167" width="6.167" height="1.6667"/><rect x="1134.000" y="490.167" width="6.167" height="1.6667"/><rect x="1142.833" y="490.167" width="6.167" height="1.6667"/><rect x="1151.667" y="490.167" width="6.167" height="1.6667"/><rect x="1160.500" y="490.167" width="6.167" height="1.6667"/><rect x="1169.333" y="490.167" width="6.167" height="1.6667"/><rect x="1178.167" y="490.167" width="6.167" height="1.6667"/><rect x="1187.000" y="490.167" width="6.167" height="1.6667"/><rect x="1195.833" y="490.167" width="6.167" height="1.6667"/><rect x="1204.667" y="490.167" width="6.167" height="1.6667"/><rect x="1213.500" y="490.167" width="6.167" height="1.6667"/><rect x="1222.333" y="490.167" width="6.167" height="1.6667"/><rect x="1231.167" y="490.167" width="6.167" height="1.6667"/><rect x="1240.000" y="490.167" width="6.167" height="1.6667"/><rect x="1248.833" y="490.167" width="6.167" height="1.6667"/><rect x="1257.667" y="490.167" width="6.167" height="1.6667"/><rect x="1266.500" y="490.167" width="6.167" height="1.6667"/><rect x="1275.333" y="490.167" width="6.167" height="1.6667"/><rect x="1284.167" y="490.167" width="6.167" height="1.6667"/><rect x="1293.000" y="490.167" width="6.167" height="1.6667"/><rect x="1301.833" y="490.167" width="6.167" height="1.6667"/><rect x="1310.667" y="490.167" width="6.167" height="1.6667"/><rect x="1319.500" y="490.167" width="6.167" height="1.6667"/><rect x="1328.333" y="490.167" width="6.167" height="1.6667"/><rect x="1337.167" y="490.167" width="6.167" height="1.6667"/><rect x="1346.000" y="490.167" width="6.167" height="1.6667"/><rect x="1354.833" y="490.167" width="6.167" height="1.6667"/><rect x="1363.667" y="490.167" width="6.167" height="1.6667"/><rect x="1372.500" y="490.167" width="6.167" height="1.6667"/><rect x="1381.333" y="490.167" width="6.167" height="1.6667"/><rect x="1390.167" y="490.167" width="6.167" height="1.6667"/><rect x="1399.000" y="490.167" width="6.167" height="1.6667"/><rect x="1407.833" y="490.167" width="6.167" height="1.6667"/><rect x="1416.667" y="490.167" width="6.167" height="1.6667"/><rect x="1425.500" y="490.167" width="6.167" height="1.6667"/><rect x="1434.333" y="490.167" width="6.167" height="1.6667"/><rect x="1443.167" y="490.167" width="6.167" height="1.6667"/><rect x="1452.000" y="490.167" width="6.167" height="1.6667"/><rect x="1460.833" y="490.167" width="6.167" height="1.6667"/><rect x="1469.667" y="490.167" width="6.167" height="1.6667"/><rect x="1478.500" y="490.167" width="6.167" height="1.6667"/><rect x="1487.333" y="490.167" width="6.167" height="1.6667"/><rect x="1496.167" y="490.167" width="6.167" height="1.6667"/><rect x="1505.000" y="490.167" width="6.167" height="1.6667"/><rect x="1513.833" y="490.167" width="6.167" height="1.6667"/><rect x="1522.667" y="490.167" width="6.167" height="1.6667"/><rect x="1531.500" y="490.167" width="6.167" height="1.6667"/><rect x="1540.333" y="490.167" width="6.167" height="1.6667"/><rect x="1549.167" y="490.167" width="6.167" height="1.6667"/><rect x="1558.000" y="490.167" width="6.167" height="1.6667"/><rect x="1566.833" y="490.167" width="6.167" height="1.6667"/><rect x="1575.667" y="490.167" width="6.167" height="1.6667"/><rect x="1584.500" y="490.167" width="6.167" height="1.6667"/><rect x="1593.333" y="490.167" width="6.167" height="1.6667"/><rect x="1602.167" y="490.167" width="6.167" height="1.6667"/><rect x="1611.000" y="490.167" width="6.167" height="1.6667"/><rect x="1619.833" y="490.167" width="6.167" height="1.6667"/><rect x="1628.667" y="490.167" width="6.167" height="1.6667"/><rect x="1637.500" y="490.167" width="6.167" height="1.6667"/><rect x="1646.333" y="490.167" width="6.167" height="1.6667"/><rect x="1655.167" y="490.167" width="6.167" height="1.6667"/><rect x="1664.000" y="490.167" width="6.167" height="1.6667"/><rect x="1672.833" y="490.167" width="4.167" height="1.6667"/><rect x="127.000" y="301.167" width="6.167" height="1.6667"/><rect x="135.833" y="301.167" width="6.167" height="1.6667"/><rect x="144.667" y="301.167" width="6.167" height="1.6667"/><rect x="153.500" y="301.167" width="6.167" height="1.6667"/><rect x="162.333" y="301.167" width="6.167" height="1.6667"/><rect x="171.167" y="301.167" width="6.167" height="1.6667"/><rect x="180.000" y="301.167" width="6.167" height="1.6667"/><rect x="188.833" y="301.167" width="6.167" height="1.6667"/><rect x="197.667" y="301.167" width="6.167" height="1.6667"/><rect x="206.500" y="301.167" width="6.167" height="1.6667"/><rect x="215.333" y="301.167" width="6.167" height="1.6667"/><rect x="224.167" y="301.167" width="6.167" height="1.6667"/><rect x="233.000" y="301.167" width="6.167" height="1.6667"/><rect x="241.833" y="301.167" width="6.167" height="1.6667"/><rect x="250.667" y="301.167" width="6.167" height="1.6667"/><rect x="259.500" y="301.167" width="6.167" height="1.6667"/><rect x="268.333" y="301.167" width="6.167" height="1.6667"/><rect x="277.167" y="301.167" width="6.167" height="1.6667"/><rect x="286.000" y="301.167" width="6.167" height="1.6667"/><rect x="294.833" y="301.167" width="6.167" height="1.6667"/><rect x="303.667" y="301.167" width="6.167" height="1.6667"/><rect x="312.500" y="301.167" width="6.167" height="1.6667"/><rect x="321.333" y="301.167" width="6.167" height="1.6667"/><rect x="330.167" y="301.167" width="6.167" height="1.6667"/><rect x="339.000" y="301.167" width="6.167" height="1.6667"/><rect x="347.833" y="301.167" width="6.167" height="1.6667"/><rect x="356.667" y="301.167" width="6.167" height="1.6667"/><rect x="365.500" y="301.167" width="6.167" height="1.6667"/><rect x="374.333" y="301.167" width="6.167" height="1.6667"/><rect x="383.167" y="301.167" width="6.167" height="1.6667"/><rect x="392.000" y="301.167" width="6.167" height="1.6667"/><rect x="400.833" y="301.167" width="6.167" height="1.6667"/><rect x="409.667" y="301.167" width="6.167" height="1.6667"/><rect x="418.500" y="301.167" width="6.167" height="1.6667"/><rect x="427.333" y="301.167" width="6.167" height="1.6667"/><rect x="436.167" y="301.167" width="6.167" height="1.6667"/><rect x="445.000" y="301.167" width="6.167" height="1.6667"/><rect x="453.833" y="301.167" width="6.167" height="1.6667"/><rect x="462.667" y="301.167" width="6.167" height="1.6667"/><rect x="471.500" y="301.167" width="6.167" height="1.6667"/><rect x="480.333" y="301.167" width="6.167" height="1.6667"/><rect x="489.167" y="301.167" width="6.167" height="1.6667"/><rect x="498.000" y="301.167" width="6.167" height="1.6667"/><rect x="506.833" y="301.167" width="6.167" height="1.6667"/><rect x="515.667" y="301.167" width="6.167" height="1.6667"/><rect x="524.500" y="301.167" width="6.167" height="1.6667"/><rect x="533.333" y="301.167" width="6.167" height="1.6667"/><rect x="542.167" y="301.167" width="6.167" height="1.6667"/><rect x="551.000" y="301.167" width="6.167" height="1.6667"/><rect x="559.833" y="301.167" width="6.167" height="1.6667"/><rect x="568.667" y="301.167" width="6.167" height="1.6667"/><rect x="577.500" y="301.167" width="6.167" height="1.6667"/><rect x="586.333" y="301.167" width="6.167" height="1.6667"/><rect x="595.167" y="301.167" width="6.167" height="1.6667"/><rect x="604.000" y="301.167" width="6.167" height="1.6667"/><rect x="612.833" y="301.167" width="6.167" height="1.6667"/><rect x="621.667" y="301.167" width="6.167" height="1.6667"/><rect x="630.500" y="301.167" width="6.167" height="1.6667"/><rect x="639.333" y="301.167" width="6.167" height="1.6667"/><rect x="648.167" y="301.167" width="6.167" height="1.6667"/><rect x="657.000" y="301.167" width="6.167" height="1.6667"/><rect x="665.833" y="301.167" width="6.167" height="1.6667"/><rect x="674.667" y="301.167" width="6.167" height="1.6667"/><rect x="683.500" y="301.167" width="6.167" height="1.6667"/><rect x="692.333" y="301.167" width="6.167" height="1.6667"/><rect x="701.167" y="301.167" width="6.167" height="1.6667"/><rect x="710.000" y="301.167" width="6.167" height="1.6667"/><rect x="718.833" y="301.167" width="6.167" height="1.6667"/><rect x="727.667" y="301.167" width="6.167" height="1.6667"/><rect x="736.500" y="301.167" width="6.167" height="1.6667"/><rect x="745.333" y="301.167" width="6.167" height="1.6667"/><rect x="754.167" y="301.167" width="6.167" height="1.6667"/><rect x="763.000" y="301.167" width="6.167" height="1.6667"/><rect x="771.833" y="301.167" width="6.167" height="1.6667"/><rect x="780.667" y="301.167" width="6.167" height="1.6667"/><rect x="789.500" y="301.167" width="6.167" height="1.6667"/><rect x="798.333" y="301.167" width="6.167" height="1.6667"/><rect x="807.167" y="301.167" width="6.167" height="1.6667"/><rect x="816.000" y="301.167" width="6.167" height="1.6667"/><rect x="824.833" y="301.167" width="6.167" height="1.6667"/><rect x="833.667" y="301.167" width="6.167" height="1.6667"/><rect x="842.500" y="301.167" width="6.167" height="1.6667"/><rect x="851.333" y="301.167" width="6.167" height="1.6667"/><rect x="860.167" y="301.167" width="6.167" height="1.6667"/><rect x="869.000" y="301.167" width="6.167" height="1.6667"/><rect x="877.833" y="301.167" width="6.167" height="1.6667"/><rect x="886.667" y="301.167" width="6.167" height="1.6667"/><rect x="895.500" y="301.167" width="6.167" height="1.6667"/><rect x="904.333" y="301.167" width="6.167" height="1.6667"/><rect x="913.167" y="301.167" width="6.167" height="1.6667"/><rect x="922.000" y="301.167" width="6.167" height="1.6667"/><rect x="930.833" y="301.167" width="6.167" height="1.6667"/><rect x="939.667" y="301.167" width="6.167" height="1.6667"/><rect x="948.500" y="301.167" width="6.167" height="1.6667"/><rect x="957.333" y="301.167" width="6.167" height="1.6667"/><rect x="966.167" y="301.167" width="6.167" height="1.6667"/><rect x="975.000" y="301.167" width="6.167" height="1.6667"/><rect x="983.833" y="301.167" width="6.167" height="1.6667"/><rect x="992.667" y="301.167" width="6.167" height="1.6667"/><rect x="1001.500" y="301.167" width="6.167" height="1.6667"/><rect x="1010.333" y="301.167" width="6.167" height="1.6667"/><rect x="1019.167" y="301.167" width="6.167" height="1.6667"/><rect x="1028.000" y="301.167" width="6.167" height="1.6667"/><rect x="1036.833" y="301.167" width="6.167" height="1.6667"/><rect x="1045.667" y="301.167" width="6.167" height="1.6667"/><rect x="1054.500" y="301.167" width="6.167" height="1.6667"/><rect x="1063.333" y="301.167" width="6.167" height="1.6667"/><rect x="1072.167" y="301.167" width="6.167" height="1.6667"/><rect x="1081.000" y="301.167" width="6.167" height="1.6667"/><rect x="1089.833" y="301.167" width="6.167" height="1.6667"/><rect x="1098.667" y="301.167" width="6.167" height="1.6667"/><rect x="1107.500" y="301.167" width="6.167" height="1.6667"/><rect x="1116.333" y="301.167" width="6.167" height="1.6667"/><rect x="1125.167" y="301.167" width="6.167" height="1.6667"/><rect x="1134.000" y="301.167" width="6.167" height="1.6667"/><rect x="1142.833" y="301.167" width="6.167" height="1.6667"/><rect x="1151.667" y="301.167" width="6.167" height="1.6667"/><rect x="1160.500" y="301.167" width="6.167" height="1.6667"/><rect x="1169.333" y="301.167" width="6.167" height="1.6667"/><rect x="1178.167" y="301.167" width="6.167" height="1.6667"/><rect x="1187.000" y="301.167" width="6.167" height="1.6667"/><rect x="1195.833" y="301.167" width="6.167" height="1.6667"/><rect x="1204.667" y="301.167" width="6.167" height="1.6667"/><rect x="1213.500" y="301.167" width="6.167" height="1.6667"/><rect x="1222.333" y="301.167" width="6.167" height="1.6667"/><rect x="1231.167" y="301.167" width="6.167" height="1.6667"/><rect x="1240.000" y="301.167" width="6.167" height="1.6667"/><rect x="1248.833" y="301.167" width="6.167" height="1.6667"/><rect x="1257.667" y="301.167" width="6.167" height="1.6667"/><rect x="1266.500" y="301.167" width="6.167" height="1.6667"/><rect x="1275.333" y="301.167" width="6.167" height="1.6667"/><rect x="1284.167" y="301.167" width="6.167" height="1.6667"/><rect x="1293.000" y="301.167" width="6.167" height="1.6667"/><rect x="1301.833" y="301.167" width="6.167" height="1.6667"/><rect x="1310.667" y="301.167" width="6.167" height="1.6667"/><rect x="1319.500" y="301.167" width="6.167" height="1.6667"/><rect x="1328.333" y="301.167" width="6.167" height="1.6667"/><rect x="1337.167" y="301.167" width="6.167" height="1.6667"/><rect x="1346.000" y="301.167" width="6.167" height="1.6667"/><rect x="1354.833" y="301.167" width="6.167" height="1.6667"/><rect x="1363.667" y="301.167" width="6.167" height="1.6667"/><rect x="1372.500" y="301.167" width="6.167" height="1.6667"/><rect x="1381.333" y="301.167" width="6.167" height="1.6667"/><rect x="1390.167" y="301.167" width="6.167" height="1.6667"/><rect x="1399.000" y="301.167" width="6.167" height="1.6667"/><rect x="1407.833" y="301.167" width="6.167" height="1.6667"/><rect x="1416.667" y="301.167" width="6.167" height="1.6667"/><rect x="1425.500" y="301.167" width="6.167" height="1.6667"/><rect x="1434.333" y="301.167" width="6.167" height="1.6667"/><rect x="1443.167" y="301.167" width="6.167" height="1.6667"/><rect x="1452.000" y="301.167" width="6.167" height="1.6667"/><rect x="1460.833" y="301.167" width="6.167" height="1.6667"/><rect x="1469.667" y="301.167" width="6.167" height="1.6667"/><rect x="1478.500" y="301.167" width="6.167" height="1.6667"/><rect x="1487.333" y="301.167" width="6.167" height="1.6667"/><rect x="1496.167" y="301.167" width="6.167" height="1.6667"/><rect x="1505.000" y="301.167" width="6.167" height="1.6667"/><rect x="1513.833" y="301.167" width="6.167" height="1.6667"/><rect x="1522.667" y="301.167" width="6.167" height="1.6667"/><rect x="1531.500" y="301.167" width="6.167" height="1.6667"/><rect x="1540.333" y="301.167" width="6.167" height="1.6667"/><rect x="1549.167" y="301.167" width="6.167" height="1.6667"/><rect x="1558.000" y="301.167" width="6.167" height="1.6667"/><rect x="1566.833" y="301.167" width="6.167" height="1.6667"/><rect x="1575.667" y="301.167" width="6.167" height="1.6667"/><rect x="1584.500" y="301.167" width="6.167" height="1.6667"/><rect x="1593.333" y="301.167" width="6.167" height="1.6667"/><rect x="1602.167" y="301.167" width="6.167" height="1.6667"/><rect x="1611.000" y="301.167" width="6.167" height="1.6667"/><rect x="1619.833" y="301.167" width="6.167" height="1.6667"/><rect x="1628.667" y="301.167" width="6.167" height="1.6667"/><rect x="1637.500" y="301.167" width="6.167" height="1.6667"/><rect x="1646.333" y="301.167" width="6.167" height="1.6667"/><rect x="1655.167" y="301.167" width="6.167" height="1.6667"/><rect x="1664.000" y="301.167" width="6.167" height="1.6667"/><rect x="1672.833" y="301.167" width="4.167" height="1.6667"/><rect x="127.000" y="111.167" width="6.167" height="1.6667"/><rect x="135.833" y="111.167" width="6.167" height="1.6667"/><rect x="144.667" y="111.167" width="6.167" height="1.6667"/><rect x="153.500" y="111.167" width="6.167" height="1.6667"/><rect x="162.333" y="111.167" width="6.167" height="1.6667"/><rect x="171.167" y="111.167" width="6.167" height="1.6667"/><rect x="180.000" y="111.167" width="6.167" height="1.6667"/><rect x="188.833" y="111.167" width="6.167" height="1.6667"/><rect x="197.667" y="111.167" width="6.167" height="1.6667"/><rect x="206.500" y="111.167" width="6.167" height="1.6667"/><rect x="215.333" y="111.167" width="6.167" height="1.6667"/><rect x="224.167" y="111.167" width="6.167" height="1.6667"/><rect x="233.000" y="111.167" width="6.167" height="1.6667"/><rect x="241.833" y="111.167" width="6.167" height="1.6667"/><rect x="250.667" y="111.167" width="6.167" height="1.6667"/><rect x="259.500" y="111.167" width="6.167" height="1.6667"/><rect x="268.333" y="111.167" width="6.167" height="1.6667"/><rect x="277.167" y="111.167" width="6.167" height="1.6667"/><rect x="286.000" y="111.167" width="6.167" height="1.6667"/><rect x="294.833" y="111.167" width="6.167" height="1.6667"/><rect x="303.667" y="111.167" width="6.167" height="1.6667"/><rect x="312.500" y="111.167" width="6.167" height="1.6667"/><rect x="321.333" y="111.167" width="6.167" height="1.6667"/><rect x="330.167" y="111.167" width="6.167" height="1.6667"/><rect x="339.000" y="111.167" width="6.167" height="1.6667"/><rect x="347.833" y="111.167" width="6.167" height="1.6667"/><rect x="356.667" y="111.167" width="6.167" height="1.6667"/><rect x="365.500" y="111.167" width="6.167" height="1.6667"/><rect x="374.333" y="111.167" width="6.167" height="1.6667"/><rect x="383.167" y="111.167" width="6.167" height="1.6667"/><rect x="392.000" y="111.167" width="6.167" height="1.6667"/><rect x="400.833" y="111.167" width="6.167" height="1.6667"/><rect x="409.667" y="111.167" width="6.167" height="1.6667"/><rect x="418.500" y="111.167" width="6.167" height="1.6667"/><rect x="427.333" y="111.167" width="6.167" height="1.6667"/><rect x="436.167" y="111.167" width="6.167" height="1.6667"/><rect x="445.000" y="111.167" width="6.167" height="1.6667"/><rect x="453.833" y="111.167" width="6.167" height="1.6667"/><rect x="462.667" y="111.167" width="6.167" height="1.6667"/><rect x="471.500" y="111.167" width="6.167" height="1.6667"/><rect x="480.333" y="111.167" width="6.167" height="1.6667"/><rect x="489.167" y="111.167" width="6.167" height="1.6667"/><rect x="498.000" y="111.167" width="6.167" height="1.6667"/><rect x="506.833" y="111.167" width="6.167" height="1.6667"/><rect x="515.667" y="111.167" width="6.167" height="1.6667"/><rect x="524.500" y="111.167" width="6.167" height="1.6667"/><rect x="533.333" y="111.167" width="6.167" height="1.6667"/><rect x="542.167" y="111.167" width="6.167" height="1.6667"/><rect x="551.000" y="111.167" width="6.167" height="1.6667"/><rect x="559.833" y="111.167" width="6.167" height="1.6667"/><rect x="568.667" y="111.167" width="6.167" height="1.6667"/><rect x="577.500" y="111.167" width="6.167" height="1.6667"/><rect x="586.333" y="111.167" width="6.167" height="1.6667"/><rect x="595.167" y="111.167" width="6.167" height="1.6667"/><rect x="604.000" y="111.167" width="6.167" height="1.6667"/><rect x="612.833" y="111.167" width="6.167" height="1.6667"/><rect x="621.667" y="111.167" width="6.167" height="1.6667"/><rect x="630.500" y="111.167" width="6.167" height="1.6667"/><rect x="639.333" y="111.167" width="6.167" height="1.6667"/><rect x="648.167" y="111.167" width="6.167" height="1.6667"/><rect x="657.000" y="111.167" width="6.167" height="1.6667"/><rect x="665.833" y="111.167" width="6.167" height="1.6667"/><rect x="674.667" y="111.167" width="6.167" height="1.6667"/><rect x="683.500" y="111.167" width="6.167" height="1.6667"/><rect x="692.333" y="111.167" width="6.167" height="1.6667"/><rect x="701.167" y="111.167" width="6.167" height="1.6667"/><rect x="710.000" y="111.167" width="6.167" height="1.6667"/><rect x="718.833" y="111.167" width="6.167" height="1.6667"/><rect x="727.667" y="111.167" width="6.167" height="1.6667"/><rect x="736.500" y="111.167" width="6.167" height="1.6667"/><rect x="745.333" y="111.167" width="6.167" height="1.6667"/><rect x="754.167" y="111.167" width="6.167" height="1.6667"/><rect x="763.000" y="111.167" width="6.167" height="1.6667"/><rect x="771.833" y="111.167" width="6.167" height="1.6667"/><rect x="780.667" y="111.167" width="6.167" height="1.6667"/><rect x="789.500" y="111.167" width="6.167" height="1.6667"/><rect x="798.333" y="111.167" width="6.167" height="1.6667"/><rect x="807.167" y="111.167" width="6.167" height="1.6667"/><rect x="816.000" y="111.167" width="6.167" height="1.6667"/><rect x="824.833" y="111.167" width="6.167" height="1.6667"/><rect x="833.667" y="111.167" width="6.167" height="1.6667"/><rect x="842.500" y="111.167" width="6.167" height="1.6667"/><rect x="851.333" y="111.167" width="6.167" height="1.6667"/><rect x="860.167" y="111.167" width="6.167" height="1.6667"/><rect x="869.000" y="111.167" width="6.167" height="1.6667"/><rect x="877.833" y="111.167" width="6.167" height="1.6667"/><rect x="886.667" y="111.167" width="6.167" height="1.6667"/><rect x="895.500" y="111.167" width="6.167" height="1.6667"/><rect x="904.333" y="111.167" width="6.167" height="1.6667"/><rect x="913.167" y="111.167" width="6.167" height="1.6667"/><rect x="922.000" y="111.167" width="6.167" height="1.6667"/><rect x="930.833" y="111.167" width="6.167" height="1.6667"/><rect x="939.667" y="111.167" width="6.167" height="1.6667"/><rect x="948.500" y="111.167" width="6.167" height="1.6667"/><rect x="957.333" y="111.167" width="6.167" height="1.6667"/><rect x="966.167" y="111.167" width="6.167" height="1.6667"/><rect x="975.000" y="111.167" width="6.167" height="1.6667"/><rect x="983.833" y="111.167" width="6.167" height="1.6667"/><rect x="992.667" y="111.167" width="6.167" height="1.6667"/><rect x="1001.500" y="111.167" width="6.167" height="1.6667"/><rect x="1010.333" y="111.167" width="6.167" height="1.6667"/><rect x="1019.167" y="111.167" width="6.167" height="1.6667"/><rect x="1028.000" y="111.167" width="6.167" height="1.6667"/><rect x="1036.833" y="111.167" width="6.167" height="1.6667"/><rect x="1045.667" y="111.167" width="6.167" height="1.6667"/><rect x="1054.500" y="111.167" width="6.167" height="1.6667"/><rect x="1063.333" y="111.167" width="6.167" height="1.6667"/><rect x="1072.167" y="111.167" width="6.167" height="1.6667"/><rect x="1081.000" y="111.167" width="6.167" height="1.6667"/><rect x="1089.833" y="111.167" width="6.167" height="1.6667"/><rect x="1098.667" y="111.167" width="6.167" height="1.6667"/><rect x="1107.500" y="111.167" width="6.167" height="1.6667"/><rect x="1116.333" y="111.167" width="6.167" height="1.6667"/><rect x="1125.167" y="111.167" width="6.167" height="1.6667"/><rect x="1134.000" y="111.167" width="6.167" height="1.6667"/><rect x="1142.833" y="111.167" width="6.167" height="1.6667"/><rect x="1151.667" y="111.167" width="6.167" height="1.6667"/><rect x="1160.500" y="111.167" width="6.167" height="1.6667"/><rect x="1169.333" y="111.167" width="6.167" height="1.6667"/><rect x="1178.167" y="111.167" width="6.167" height="1.6667"/><rect x="1187.000" y="111.167" width="6.167" height="1.6667"/><rect x="1195.833" y="111.167" width="6.167" height="1.6667"/><rect x="1204.667" y="111.167" width="6.167" height="1.6667"/><rect x="1213.500" y="111.167" width="6.167" height="1.6667"/><rect x="1222.333" y="111.167" width="6.167" height="1.6667"/><rect x="1231.167" y="111.167" width="6.167" height="1.6667"/><rect x="1240.000" y="111.167" width="6.167" height="1.6667"/><rect x="1248.833" y="111.167" width="6.167" height="1.6667"/><rect x="1257.667" y="111.167" width="6.167" height="1.6667"/><rect x="1266.500" y="111.167" width="6.167" height="1.6667"/><rect x="1275.333" y="111.167" width="6.167" height="1.6667"/><rect x="1284.167" y="111.167" width="6.167" height="1.6667"/><rect x="1293.000" y="111.167" width="6.167" height="1.6667"/><rect x="1301.833" y="111.167" width="6.167" height="1.6667"/><rect x="1310.667" y="111.167" width="6.167" height="1.6667"/><rect x="1319.500" y="111.167" width="6.167" height="1.6667"/><rect x="1328.333" y="111.167" width="6.167" height="1.6667"/><rect x="1337.167" y="111.167" width="6.167" height="1.6667"/><rect x="1346.000" y="111.167" width="6.167" height="1.6667"/><rect x="1354.833" y="111.167" width="6.167" height="1.6667"/><rect x="1363.667" y="111.167" width="6.167" height="1.6667"/><rect x="1372.500" y="111.167" width="6.167" height="1.6667"/><rect x="1381.333" y="111.167" width="6.167" height="1.6667"/><rect x="1390.167" y="111.167" width="6.167" height="1.6667"/><rect x="1399.000" y="111.167" width="6.167" height="1.6667"/><rect x="1407.833" y="111.167" width="6.167" height="1.6667"/><rect x="1416.667" y="111.167" width="6.167" height="1.6667"/><rect x="1425.500" y="111.167" width="6.167" height="1.6667"/><rect x="1434.333" y="111.167" width="6.167" height="1.6667"/><rect x="1443.167" y="111.167" width="6.167" height="1.6667"/><rect x="1452.000" y="111.167" width="6.167" height="1.6667"/><rect x="1460.833" y="111.167" width="6.167" height="1.6667"/><rect x="1469.667" y="111.167" width="6.167" height="1.6667"/><rect x="1478.500" y="111.167" width="6.167" height="1.6667"/><rect x="1487.333" y="111.167" width="6.167" height="1.6667"/><rect x="1496.167" y="111.167" width="6.167" height="1.6667"/><rect x="1505.000" y="111.167" width="6.167" height="1.6667"/><rect x="1513.833" y="111.167" width="6.167" height="1.6667"/><rect x="1522.667" y="111.167" width="6.167" height="1.6667"/><rect x="1531.500" y="111.167" width="6.167" height="1.6667"/><rect x="1540.333" y="111.167" width="6.167" height="1.6667"/><rect x="1549.167" y="111.167" width="6.167" height="1.6667"/><rect x="1558.000" y="111.167" width="6.167" height="1.6667"/><rect x="1566.833" y="111.167" width="6.167" height="1.6667"/><rect x="1575.667" y="111.167" width="6.167" height="1.6667"/><rect x="1584.500" y="111.167" width="6.167" height="1.6667"/><rect x="1593.333" y="111.167" width="6.167" height="1.6667"/><rect x="1602.167" y="111.167" width="6.167" height="1.6667"/><rect x="1611.000" y="111.167" width="6.167" height="1.6667"/><rect x="1619.833" y="111.167" width="6.167" height="1.6667"/><rect x="1628.667" y="111.167" width="6.167" height="1.6667"/><rect x="1637.500" y="111.167" width="6.167" height="1.6667"/><rect x="1646.333" y="111.167" width="6.167" height="1.6667"/><rect x="1655.167" y="111.167" width="6.167" height="1.6667"/><rect x="1664.000" y="111.167" width="6.167" height="1.6667"/><rect x="1672.833" y="111.167" width="4.167" height="1.6667"/></g>
<polyline points="197.36,112.01 211.74,348.88 226.12,467.32 240.50,541.34 254.88,593.16 269.26,632.02 283.64,662.56 298.01,687.37 312.39,708.04 326.77,725.61 341.15,740.79 355.53,754.07 369.91,765.82 384.29,776.31 398.67,785.75 413.05,794.30 427.43,802.10 441.81,809.25 456.19,815.84 470.57,821.93 484.95,827.59 499.33,832.86 513.71,837.79 528.09,842.40 542.46,846.75 556.84,850.84 571.22,854.70 585.60,858.36 599.98,861.83 614.36,865.12 628.74,868.26 643.12,871.25 657.50,874.10 671.88,876.82 686.26,879.43 700.64,881.94 715.02,884.34 729.40,886.64 743.78,888.86 758.16,890.99 772.54,893.04 786.91,895.03 801.29,896.94 815.67,898.79 830.05,900.57 844.43,902.30 858.81,903.97 873.19,905.59 887.57,907.16 901.95,908.69 916.33,910.16 930.71,911.60 945.09,913.00 959.47,914.35 973.85,915.67 988.23,916.96 1002.61,918.21 1016.99,919.43 1031.36,920.61 1045.74,921.77 1060.12,922.90 1074.50,924.00 1088.88,925.08 1103.26,926.13 1117.64,927.15 1132.02,928.15 1146.40,929.14 1160.78,930.09 1175.16,931.03 1189.54,931.95 1203.92,932.85 1218.30,933.73 1232.68,934.59 1247.06,935.43 1261.44,936.26 1275.81,937.07 1290.19,937.87 1304.57,938.65 1318.95,939.41 1333.33,940.16 1347.71,940.90 1362.09,941.62 1376.47,942.33 1390.85,943.03 1405.23,943.71 1419.61,944.39 1433.99,945.05 1448.37,945.70 1462.75,946.34 1477.13,946.97 1491.51,947.59 1505.89,948.19 1520.26,948.79 1534.64,949.38 1549.02,949.96 1563.40,950.53 1577.78,951.09 1592.16,951.65 1606.54,952.19" fill="none" stroke="#0000ff" stroke-width="4.1667" stroke-linejoin="round" stroke-linecap="square"/>
<g fill="#0000ff"><circle cx="211.74" cy="348.88" r="1.6000"/><circle cx="226.12" cy="467.32" r="1.6000"/><circle cx="240.50" cy="541.34" r="1.6000"/><circle cx="254.88" cy="593.16" r="1.6000"/><circle cx="269.26" cy="632.02" r="1.6000"/><circle cx="283.64" cy="662.56" r="1.6000"/><circle cx="298.01" cy="687.37" r="1.6000"/><circle cx="312.39" cy="708.04" r="1.6000"/><circle cx="326.77" cy="725.61" r="1.6000"/><circle cx="341.15" cy="740.79" r="1.6000"/><circle cx="355.53" cy="754.07" r="1.6000"/><circle cx="369.91" cy="765.82" r="1.6000"/><circle cx="384.29" cy="776.31" r="1.6000"/><circle cx="398.67" cy="785.75" r="1.6000"/><circle cx="413.05" cy="794.30" r="1.6000"/><circle cx="427.43" cy="802.10" r="1.6000"/><circle cx="441.81" cy="809.25" r="1.6000"/><circle cx="456.19" cy="815.84" r="1.6000"/><circle cx="470.57" cy="821.93" r="1.6000"/><circle cx="484.95" cy="827.59" r="1.6000"/><circle cx="499.33" cy="832.86" r="1.6000"/><circle cx="513.71" cy="837.79" r="1.6000"/><circle cx="528.09" cy="842.40" r="1.6000"/><circle cx="542.46" cy="846.75" r="1.6000"/><circle cx="556.84" cy="850.84" r="1.6000"/><circle cx="571.22" cy="854.70" r="1.6000"/><circle cx="585.60" cy="858.36" r="1.6000"/><circle cx="599.98" cy="861.83" r="1.6000"/><circle cx="614.36" cy="865.12" r="1.6000"/><circle cx="628.74" cy="868.26" r="1.6000"/><circle cx="643.12" cy="871.25" r="1.6000"/><circle cx="657.50" cy="874.10" r="1.6000"/><circle cx="671.88" cy="876.82" r="1.6000"/><circle cx="686.26" cy="879.43" r="1.6000"/><circle cx="700.64" cy="881.94" r="1.6000"/><circle cx="715.02" cy="884.34" r="1.6000"/><circle cx="729.40" cy="886.64" r="1.6000"/><circle cx="743.78" cy="888.86" r="1.6000"/><circle cx="758.16" cy="890.99" r="1.6000"/><circle cx="772.54" cy="893.04" r="1.6000"/><circle cx="786.91" cy="895.03" r="1.6000"/><circle cx="801.29" cy="896.94" r="1.6000"/><circle cx="815.67" cy="898.79" r="1.6000"/><circle cx="830.05" cy="900.57" r="1.6000"/><circle cx="844.43" cy="902.30" r="1.6000"/><circle cx="858.81" cy="903.97" r="1.6000"/><circle cx="873.19" cy="905.59" r="1.6000"/><circle cx="887.57" cy="907.16" r="1.6000"/><circle cx="901.95" cy="908.69" r="1.6000"/><circle cx="916.33" cy="910.16" r="1.6000"/><circle cx="930.71" cy="911.60" r="1.6000"/><circle cx="945.09" cy="913.00" r="1.6000"/><circle cx="959.47" cy="914.35" r="1.6000"/><circle cx="973.85" cy="915.67" r="1.6000"/><circle cx="988.23" cy="916.96" r="1.6000"/><circle cx="1002.61" cy="918.21" r="1.6000"/><circle cx="1016.99" cy="919.43" r="1.6000"/><circle cx="1031.36" cy="920.61" r="1.6000"/><circle cx="1045.74" cy="921.77" r="1.6000"/><circle cx="1060.12" cy="922.90" r="1.6000"/><circle cx="1074.50" cy="924.00" r="1.6000"/><circle cx="1088.88" cy="925.08" r="1.6000"/><circle cx="1103.26" cy="926.13" r="1.6000"/><circle cx="1117.64" cy="927.15" r="1.6000"/><circle cx="1132.02" cy="928.15" r="1.6000"/><circle cx="1146.40" cy="929.14" r="1.6000"/><circle cx="1160.78" cy="930.09" r="1.6000"/><circle cx="1175.16" cy="931.03" r="1.6000"/><circle cx="1189.54" cy="931.95" r="1.6000"/><circle cx="1203.92" cy="932.85" r="1.6000"/><circle cx="1218.30" cy="933.73" r="1.6000"/><circle cx="1232.68" cy="934.59" r="1.6000"/><circle cx="1247.06" cy="935.43" r="1.6000"/><circle cx="1261.44" cy="936.26" r="1.6000"/><circle cx="1275.81" cy="937.07" r="1.6000"/><circle cx="1290.19" cy="937.87" r="1.6000"/><circle cx="1304.57" cy="938.65" r="1.6000"/><circle cx="1318.95" cy="939.41" r="1.6000"/><circle cx="1333.33" cy="940.16" r="1.6000"/><circle cx="1347.71" cy="940.90" r="1.6000"/><circle cx="1362.09" cy="941.62" r="1.6000"/><circle cx="1376.47" cy="942.33" r="1.6000"/><circle cx="1390.85" cy="943.03" r="1.6000"/><circle cx="1405.23" cy="943.71" r="1.6000"/><circle cx="1419.61" cy="944.39" r="1.6000"/><circle cx="1433.99" cy="945.05" r="1.6000"/><circle cx="1448.37" cy="945.70" r="1.6000"/><circle cx="1462.75" cy="946.34" r="1.6000"/><circle cx="1477.13" cy="946.97" r="1.6000"/><circle cx="1491.51" cy="947.59" r="1.6000"/><circle cx="1505.89" cy="948.19" r="1.6000"/><circle cx="1520.26" cy="948.79" r="1.6000"/><circle cx="1534.64" cy="949.38" r="1.6000"/><circle cx="1549.02" cy="949.96" r="1.6000"/><circle cx="1563.40" cy="950.53" r="1.6000"/><circle cx="1577.78" cy="951.09" r="1.6000"/><circle cx="1592.16" cy="951.65" r="1.6000"/></g>
<g fill="#1a1a1a"><rect x="126.111" y="69.111" width="2.778" height="926.778"/><rect x="126.111" y="993.111" width="1552.778" height="2.778"/></g>
<g fill="#1a1a1a"><rect x="181.889" y="984" width="2.2222" height="10.5"/><rect x="361.889" y="984" width="2.2222" height="10.5"/><rect x="540.889" y="984" width="2.2222" height="10.5"/><rect x="720.889" y="984" width="2.2222" height="10.5"/><rect x="900.889" y="984" width="2.2222" height="10.5"/><rect x="1080.889" y="984" width="2.2222" height="10.5"/><rect x="1259.889" y="984" width="2.2222" height="10.5"/><rect x="1439.889" y="984" width="2.2222" height="10.5"/><rect x="1619.889" y="984" width="2.2222" height="10.5"/><rect x="127.5" y="868.889" width="9.5" height="2.2222"/><rect x="127.5" y="679.889" width="9.5" height="2.2222"/><rect x="127.5" y="489.889" width="9.5" height="2.2222"/><rect x="127.5" y="300.889" width="9.5" height="2.2222"/><rect x="127.5" y="110.889" width="9.5" height="2.2222"/></g>
<path d="M1330.056 84.500 L1657.944 84.500 Q1663.500 84.500 1663.500 90.056 L1663.500 144.944 Q1663.500 150.500 1657.944 150.500 L1330.056 150.500 Q1324.500 150.500 1324.500 144.944 L1324.500 90.056 Q1324.500 84.500 1330.056 84.500 Z" fill="#ffffff" fill-opacity="0.8" stroke="#cccccc" stroke-opacity="0.8" stroke-width="2.7778"/>
<line x1="1335.0" y1="115.0" x2="1391.0" y2="115.0" stroke="#0000ff" stroke-width="4.1667" stroke-linecap="square"/>
<g font-family="Liberation Sans, sans-serif">
<g class="ti ti_title" aria-label="Probability of Returning to Initial Position at Specific Steps" fill="#333333" style="font-size:44.444px;"><text class="tg t_title g0" transform="translate(257.249 53.721) scale(0.8829 1.0752) rotate(0.05)" x="0" y="0">P</text><text class="tg t_title g1" transform="translate(282.249 53.311) scale(1.2504 0.9982) rotate(0.05)" x="0" y="0">r</text><text class="tg t_title g2" transform="translate(300.305 54.026) scale(1.0416 1.0251) rotate(0.05)" x="0" y="0">o</text><text class="tg t_title g3" transform="translate(327.483 54.007) scale(1.0799 1.0197) rotate(0.05)" x="0" y="0">b</text><text class="tg t_title g4" transform="translate(355.507 53.809) scale(1.0475 1.0211) rotate(0.05)" x="0" y="0">a</text><text class="tg t_title g5" transform="translate(382.718 53.997) scale(1.0796 1.0194) rotate(0.05)" x="0" y="0">b</text><text class="tg t_title g6" transform="translate(411.451 54.012) scale(1.0477 1.0319) rotate(0.05)" x="0" y="0">i</text><text class="tg t_title g7" transform="translate(424.017 53.875) scale(1.0255 1.0536) rotate(0.05)" x="0" y="0">l</text><text class="tg t_title g8" transform="translate(436.298 54.009) scale(1.0266 1.0311) rotate(0.05)" x="0" y="0">i</text><text class="tg t_title g9" transform="translate(447.770 53.371) scale(1.1590 0.9752) rotate(0.05)" x="0" y="0">t</text><text class="tg t_title g10" transform="translate(466.543 53.958) scale(1.0553 1.0105) rotate(0.05)" x="0" y="0">y</text><text class="tg t_title g11" transform="translate(506.603 53.992) scale(1.0418 1.0094) rotate(0.05)" x="0" y="0">o</text><text class="tg t_title g12" transform="translate(533.038 54.480) scale(1.2184 1.0582) rotate(0.05)" x="0" y="0">f</text><text class="tg t_title g13" transform="translate(563.952 53.357) scale(0.8502 1.0526) rotate(0.05)" x="0" y="0">R</text><text class="tg t_title g14" transform="translate(592.193 54.068) scale(1.0949 1.0158) rotate(0.05)" x="0" y="0">e</text><text class="tg t_title g15" transform="translate(618.978 53.506) scale(1.1887 1.0048) rotate(0.05)" x="0" y="0">t</text><text class="tg t_title g16" transform="translate(637.172 53.915) scale(1.0841 1.0224) rotate(0.05)" x="0" y="0">u</text><text class="tg t_title g17" transform="translate(664.792 53.739) scale(1.2825 1.0274) rotate(0.05)" x="0" y="0">r</text><text class="tg t_title g18" transform="translate(682.925 53.403) scale(1.0821 0.9935) rotate(0.05)" x="0" y="0">n</text><text class="tg t_title g19" transform="translate(711.752 54.005) scale(1.0271 1.0311) rotate(0.05)" x="0" y="0">i</text><text class="tg t_title g20" transform="translate(723.517 53.414) scale(1.0822 0.9931) rotate(0.05)" x="0" y="0">n</text><text class="tg t_title g21" transform="translate(751.713 53.678) scale(1.0886 1.0048) rotate(0.05)" x="0" y="0">g</text><text class="tg t_title g22" transform="translate(793.512 53.512) scale(1.1561 1.0049) rotate(0.05)" x="0" y="0">t</text><text class="tg t_title g23" transform="translate(811.673 54.026) scale(1.0414 1.0250) rotate(0.05)" x="0" y="0">o</text><text class="tg t_title g24" transform="translate(852.362 54.046) scale(1.0784 1.0792) rotate(0.05)" x="0" y="0">I</text><text class="tg t_title g25" transform="translate(866.338 53.407) scale(1.0821 0.9933) rotate(0.05)" x="0" y="0">n</text><text class="tg t_title g26" transform="translate(894.661 54.012) scale(1.0455 1.0315) rotate(0.05)" x="0" y="0">i</text><text class="tg t_title g27" transform="translate(906.105 53.507) scale(1.1887 1.0048) rotate(0.05)" x="0" y="0">t</text><text class="tg t_title g28" transform="translate(924.844 54.006) scale(1.0349 1.0308) rotate(0.05)" x="0" y="0">i</text><text class="tg t_title g29" transform="translate(936.578 53.820) scale(1.0482 1.0215) rotate(0.05)" x="0" y="0">a</text><text class="tg t_title g30" transform="translate(964.327 54.016) scale(1.0263 1.0537) rotate(0.05)" x="0" y="0">l</text><text class="tg t_title g31" transform="translate(990.943 53.449) scale(0.8804 1.0606) rotate(0.05)" x="0" y="0">P</text><text class="tg t_title g32" transform="translate(1015.848 54.023) scale(1.0418 1.0250) rotate(0.05)" x="0" y="0">o</text><text class="tg t_title g33" transform="translate(1042.401 54.046) scale(0.9850 1.0198) rotate(0.05)" x="0" y="0">s</text><text class="tg t_title g34" transform="translate(1066.592 54.014) scale(1.0307 1.0317) rotate(0.05)" x="0" y="0">i</text><text class="tg t_title g35" transform="translate(1078.111 53.291) scale(1.0983 0.9898) rotate(0.05)" x="0" y="0">t</text><text class="tg t_title g36" transform="translate(1096.230 54.019) scale(1.0546 1.0318) rotate(0.05)" x="0" y="0">i</text><text class="tg t_title g37" transform="translate(1108.501 54.027) scale(1.0414 1.0249) rotate(0.05)" x="0" y="0">o</text><text class="tg t_title g38" transform="translate(1135.464 53.417) scale(1.0817 0.9929) rotate(0.05)" x="0" y="0">n</text><text class="tg t_title g39" transform="translate(1177.702 53.815) scale(1.0484 1.0208) rotate(0.05)" x="0" y="0">a</text><text class="tg t_title g40" transform="translate(1204.359 53.505) scale(1.2473 1.0050) rotate(0.05)" x="0" y="0">t</text><text class="tg t_title g41" transform="translate(1235.820 53.916) scale(0.9436 1.0822) rotate(0.05)" x="0" y="0">S</text><text class="tg t_title g42" transform="translate(1265.111 53.845) scale(1.0769 1.0128) rotate(0.05)" x="0" y="0">p</text><text class="tg t_title g43" transform="translate(1292.995 54.072) scale(1.0949 1.0158) rotate(0.05)" x="0" y="0">e</text><text class="tg t_title g44" transform="translate(1320.135 53.978) scale(1.1483 1.0147) rotate(0.05)" x="0" y="0">c</text><text class="tg t_title g45" transform="translate(1345.448 54.007) scale(1.0466 1.0310) rotate(0.05)" x="0" y="0">i</text><text class="tg t_title g46" transform="translate(1357.234 54.742) scale(1.0989 1.0581) rotate(0.05)" x="0" y="0">f</text><text class="tg t_title g47" transform="translate(1373.478 54.007) scale(1.0466 1.0310) rotate(0.05)" x="0" y="0">i</text><text class="tg t_title g48" transform="translate(1385.142 53.954) scale(1.0953 1.0146) rotate(0.05)" x="0" y="0">c</text><text class="tg t_title g49" transform="translate(1423.013 54.179) scale(0.9448 1.0963) rotate(0.05)" x="0" y="0">S</text><text class="tg t_title g50" transform="translate(1451.936 53.515) scale(1.1293 1.0049) rotate(0.05)" x="0" y="0">t</text><text class="tg t_title g51" transform="translate(1469.787 54.069) scale(1.0956 1.0158) rotate(0.05)" x="0" y="0">e</text><text class="tg t_title g52" transform="translate(1497.163 53.737) scale(1.0794 1.0114) rotate(0.05)" x="0" y="0">p</text><text class="tg t_title g53" transform="translate(1525.102 54.054) scale(1.0106 1.0199) rotate(0.05)" x="0" y="0">s</text></g>
<g class="ti ti_xlabel" aria-label="Number of Steps (n)" fill="#1a1a1a" style="font-size:33.333px;"><text class="tg t_xlabel g0" transform="translate(733.592 1073.976) scale(0.9884 1.0917) rotate(0.05)" x="0" y="0">N</text><text class="tg t_xlabel g1" transform="translate(758.368 1073.579) scale(1.1065 1.0500) rotate(0.05)" x="0" y="0">u</text><text class="tg t_xlabel g2" transform="translate(779.179 1074.034) scale(1.1566 1.0628) rotate(0.05)" x="0" y="0">m</text><text class="tg t_xlabel g3" transform="translate(812.162 1073.820) scale(1.1092 1.0463) rotate(0.05)" x="0" y="0">b</text><text class="tg t_xlabel g4" transform="translate(833.612 1073.680) scale(1.0737 1.0633) rotate(0.05)" x="0" y="0">e</text><text class="tg t_xlabel g5" transform="translate(853.781 1073.768) scale(1.1879 1.0710) rotate(0.05)" x="0" y="0">r</text><text class="tg t_xlabel g6" transform="translate(878.229 1073.664) scale(1.0773 1.0354) rotate(0.05)" x="0" y="0">o</text><text class="tg t_xlabel g7" transform="translate(898.770 1073.516) scale(1.0996 1.0513) rotate(0.05)" x="0" y="0">f</text><text class="tg t_xlabel g8" transform="translate(920.500 1073.758) scale(0.9420 1.0602) rotate(0.05)" x="0" y="0">S</text><text class="tg t_xlabel g9" transform="translate(941.864 1073.439) scale(1.2825 1.0581) rotate(0.05)" x="0" y="0">t</text><text class="tg t_xlabel g10" transform="translate(955.290 1073.511) scale(1.1018 1.0455) rotate(0.05)" x="0" y="0">e</text><text class="tg t_xlabel g11" transform="translate(976.098 1073.794) scale(1.0879 1.0422) rotate(0.05)" x="0" y="0">p</text><text class="tg t_xlabel g12" transform="translate(997.107 1073.767) scale(0.9947 1.0390) rotate(0.05)" x="0" y="0">s</text><text class="tg t_xlabel g13" transform="translate(1026.114 1071.179) scale(0.8925 0.9757) rotate(0.05)" x="0" y="0">(</text><text class="tg t_xlabel g14" transform="translate(1038.353 1074.074) scale(1.0833 1.0655) rotate(0.05)" x="0" y="0">n</text><text class="tg t_xlabel g15" transform="translate(1060.390 1071.629) scale(0.9371 1.0043) rotate(0.05)" x="0" y="0">)</text></g>
<g class="ti ti_ylabel" aria-label="Probability" fill="#1a1a1a" style="font-size:33.333px;"><text class="tg t_ylabel g0" transform="translate(47.692 624.363) rotate(-90) scale(0.8835 1.0826) rotate(0.05)" x="0" y="0">P</text><text class="tg t_ylabel g1" transform="translate(47.139 606.475) rotate(-90) scale(1.2488 1.0302) rotate(0.05)" x="0" y="0">r</text><text class="tg t_ylabel g2" transform="translate(47.541 593.144) rotate(-90) scale(1.0669 1.0174) rotate(0.05)" x="0" y="0">o</text><text class="tg t_ylabel g3" transform="translate(47.420 572.600) rotate(-90) scale(1.0871 1.0263) rotate(0.05)" x="0" y="0">b</text><text class="tg t_ylabel g4" transform="translate(47.383 551.269) rotate(-90) scale(1.0558 1.0462) rotate(0.05)" x="0" y="0">a</text><text class="tg t_ylabel g5" transform="translate(47.695 530.983) rotate(-90) scale(1.0934 1.0389) rotate(0.05)" x="0" y="0">b</text><text class="tg t_ylabel g6" transform="translate(47.938 509.156) rotate(-90) scale(1.0113 1.0710) rotate(0.05)" x="0" y="0">i</text><text class="tg t_ylabel g7" transform="translate(48.020 500.782) rotate(-90) scale(1.1715 1.0768) rotate(0.05)" x="0" y="0">l</text><text class="tg t_ylabel g8" transform="translate(47.978 490.965) rotate(-90) scale(1.0796 1.0703) rotate(0.05)" x="0" y="0">i</text><text class="tg t_ylabel g9" transform="translate(47.697 482.417) rotate(-90) scale(1.2801 1.0673) rotate(0.05)" x="0" y="0">t</text><text class="tg t_ylabel g10" transform="translate(47.757 468.266) rotate(-90) scale(1.0316 1.0534) rotate(0.05)" x="0" y="0">y</text></g>
<g class="ti ti_xt_0" aria-label="0" fill="#1a1a1a" style="font-size:33.333px;"><text class="tg t_xt_0 g0" transform="translate(173.910 1029.497) scale(1.0452 1.0493) rotate(0.05)" x="0" y="0">0</text></g>
<g class="ti ti_xt_25" aria-label="25" fill="#1a1a1a" style="font-size:33.333px;"><text class="tg t_xt_25 g0" transform="translate(343.254 1029.998) scale(1.0078 1.0653) rotate(0.05)" x="0" y="0">2</text><text class="tg t_xt_25 g1" transform="translate(363.783 1029.842) scale(0.9915 1.0885) rotate(0.05)" x="0" y="0">5</text></g>
<g class="ti ti_xt_50" aria-label="50" fill="#1a1a1a" style="font-size:33.333px;"><text class="tg t_xt_50 g0" transform="translate(523.205 1029.847) scale(0.9976 1.0765) rotate(0.05)" x="0" y="0">5</text><text class="tg t_xt_50 g1" transform="translate(543.237 1029.506) scale(1.0449 1.0497) rotate(0.05)" x="0" y="0">0</text></g>
<g class="ti ti_xt_75" aria-label="75" fill="#1a1a1a" style="font-size:33.333px;"><text class="tg t_xt_75 g0" transform="translate(704.345 1030.367) scale(0.9543 1.1080) rotate(0.05)" x="0" y="0">7</text><text class="tg t_xt_75 g1" transform="translate(723.492 1029.857) scale(0.9941 1.0894) rotate(0.05)" x="0" y="0">5</text></g>
<g class="ti ti_xt_100" aria-label="100" fill="#1a1a1a" style="font-size:33.333px;"><text class="tg t_xt_100 g0" transform="translate(872.161 1029.911) scale(1.0153 1.1528) rotate(0.05)" x="0" y="0">1</text><text class="tg t_xt_100 g1" transform="translate(892.180 1029.498) scale(1.0442 1.0499) rotate(0.05)" x="0" y="0">0</text><text class="tg t_xt_100 g2" transform="translate(913.439 1029.506) scale(1.0449 1.0498) rotate(0.05)" x="0" y="0">0</text></g>
<g class="ti ti_xt_125" aria-label="125" fill="#1a1a1a" style="font-size:33.333px;"><text class="tg t_xt_125 g0" transform="translate(1050.039 1029.911) scale(1.1201 1.1528) rotate(0.05)" x="0" y="0">1</text><text class="tg t_xt_125 g1" transform="translate(1071.306 1029.946) scale(1.0100 1.0782) rotate(0.05)" x="0" y="0">2</text><text class="tg t_xt_125 g2" transform="translate(1092.879 1030.098) scale(0.9928 1.1023) rotate(0.05)" x="0" y="0">5</text></g>
<g class="ti ti_xt_150" aria-label="150" fill="#1a1a1a" style="font-size:33.333px;"><text class="tg t_xt_150 g0" transform="translate(1231.161 1029.911) scale(1.0153 1.1528) rotate(0.05)" x="0" y="0">1</text><text class="tg t_xt_150 g1" transform="translate(1251.127 1029.829) scale(1.0180 1.0879) rotate(0.05)" x="0" y="0">5</text><text class="tg t_xt_150 g2" transform="translate(1272.439 1029.506) scale(1.0449 1.0498) rotate(0.05)" x="0" y="0">0</text></g>
<g class="ti ti_xt_175" aria-label="175" fill="#1a1a1a" style="font-size:33.333px;"><text class="tg t_xt_175 g0" transform="translate(1411.322 1029.928) scale(1.0147 1.1534) rotate(0.05)" x="0" y="0">1</text><text class="tg t_xt_175 g1" transform="translate(1431.774 1030.434) scale(1.0013 1.1104) rotate(0.05)" x="0" y="0">7</text><text class="tg t_xt_175 g2" transform="translate(1452.497 1029.867) scale(1.0192 1.0762) rotate(0.05)" x="0" y="0">5</text></g>
<g class="ti ti_xt_200" aria-label="200" fill="#1a1a1a" style="font-size:33.333px;"><text class="tg t_xt_200 g0" transform="translate(1590.135 1029.998) scale(1.0078 1.0653) rotate(0.05)" x="0" y="0">2</text><text class="tg t_xt_200 g1" transform="translate(1610.297 1029.510) scale(1.0450 1.0496) rotate(0.05)" x="0" y="0">0</text><text class="tg t_xt_200 g2" transform="translate(1631.579 1029.505) scale(1.0446 1.0500) rotate(0.05)" x="0" y="0">0</text></g>
<g class="ti ti_yt_0_1" aria-label="0.1" fill="#1a1a1a" style="font-size:33.333px;"><text class="tg t_yt_0_1 g0" transform="translate(64.920 883.497) scale(1.0452 1.0493) rotate(0.05)" x="0" y="0">0</text><text class="tg t_yt_0_1 g1" transform="translate(84.602 883.884) scale(1.1089 1.0923) rotate(0.05)" x="0" y="0">.</text><text class="tg t_yt_0_1 g2" transform="translate(96.519 883.929) scale(0.9943 1.1538) rotate(0.05)" x="0" y="0">1</text></g>
<g class="ti ti_yt_0_2" aria-label="0.2" fill="#1a1a1a" style="font-size:33.333px;"><text class="tg t_yt_0_2 g0" transform="translate(65.106 694.498) scale(1.0448 1.0495) rotate(0.05)" x="0" y="0">0</text><text class="tg t_yt_0_2 g1" transform="translate(84.433 694.944) scale(1.1019 1.1234) rotate(0.05)" x="0" y="0">.</text><text class="tg t_yt_0_2 g2" transform="translate(96.504 695.004) scale(0.9830 1.0652) rotate(0.05)" x="0" y="0">2</text></g>
<g class="ti ti_yt_0_3" aria-label="0.3" fill="#1a1a1a" style="font-size:33.333px;"><text class="tg t_yt_0_3 g0" transform="translate(64.973 504.499) scale(1.0445 1.0498) rotate(0.05)" x="0" y="0">0</text><text class="tg t_yt_0_3 g1" transform="translate(84.442 504.927) scale(1.1213 1.1220) rotate(0.05)" x="0" y="0">.</text><text class="tg t_yt_0_3 g2" transform="translate(94.701 504.491) scale(1.1156 1.0687) rotate(0.05)" x="0" y="0">3</text></g>
<g class="ti ti_yt_0_4" aria-label="0.4" fill="#1a1a1a" style="font-size:33.333px;"><text class="tg t_yt_0_4 g0" transform="translate(65.116 315.492) scale(1.0453 1.0492) rotate(0.05)" x="0" y="0">0</text><text class="tg t_yt_0_4 g1" transform="translate(84.494 315.884) scale(1.1089 1.0923) rotate(0.05)" x="0" y="0">.</text><text class="tg t_yt_0_4 g2" transform="translate(94.777 315.856) scale(1.1150 1.0935) rotate(0.05)" x="0" y="0">4</text></g>
<g class="ti ti_yt_0_5" aria-label="0.5" fill="#1a1a1a" style="font-size:33.333px;"><text class="tg t_yt_0_5 g0" transform="translate(64.987 125.492) scale(1.0453 1.0492) rotate(0.05)" x="0" y="0">0</text><text class="tg t_yt_0_5 g1" transform="translate(84.516 125.884) scale(1.1089 1.0923) rotate(0.05)" x="0" y="0">.</text><text class="tg t_yt_0_5 g2" transform="translate(96.327 125.850) scale(0.9968 1.0768) rotate(0.05)" x="0" y="0">5</text></g>
</g>
<g class="legmath" aria-label="P(0, n) = C(n, n/2) (1/2)^n" font-family="Liberation Sans, sans-serif" fill="#333333"><text class="lg lg0" transform="translate(1414.402 124.831) scale(0.8680 1.0953) rotate(0.05)" x="0" y="0" style="font-size:27.778px;font-style:italic;">P</text><text class="lg lg1" transform="translate(1430.921 123.012) scale(0.8768 0.9958) rotate(0.05)" x="0" y="0" style="font-size:27.778px;">(</text><text class="lg lg2" transform="translate(1441.704 124.674) scale(1.0477 1.0727) rotate(0.05)" x="0" y="0" style="font-size:27.778px;">0</text><text class="lg lg3" transform="translate(1457.585 123.990) scale(1.3664 1.0426) rotate(0.05)" x="0" y="0" style="font-size:27.778px;">,</text><text class="lg lg4" transform="translate(1473.317 124.914) scale(1.1118 1.0808) rotate(0.05)" x="0" y="0" style="font-size:27.778px;font-style:italic;">n</text><text class="lg lg5" transform="translate(1492.166 123.106) scale(0.9216 0.9954) rotate(0.05)" x="0" y="0" style="font-size:27.778px;">)</text><text class="lg lg6" transform="translate(1508.124 123.640) scale(1.3209 0.8511) rotate(0.05)" x="0" y="0" style="font-size:27.778px;">=</text><text class="lg lg7" transform="translate(1537.616 128.770) scale(0.8439 1.1614) rotate(0.05)" x="0" y="0" style="font-size:27.657px;">(</text><text class="lg lg8" transform="translate(1557.224 113.899) scale(1.0926 1.0640) rotate(0.05)" x="0" y="0" style="font-size:19.444px;font-style:italic;">n</text><text class="lg lg9" transform="translate(1548.372 135.950) scale(1.0895 1.0564) rotate(0.05)" x="0" y="0" style="font-size:19.444px;font-style:italic;">n</text><text class="lg lg10" transform="translate(1561.058 137.625) scale(1.2269 1.1209) rotate(0.05)" x="0" y="0" style="font-size:19.444px;">/</text><text class="lg lg11" transform="translate(1567.626 135.950) scale(0.9902 1.0332) rotate(0.05)" x="0" y="0" style="font-size:19.444px;">2</text><text class="lg lg12" transform="translate(1584.995 128.798) scale(0.8025 1.1625) rotate(0.05)" x="0" y="0" style="font-size:27.657px;">)</text><text class="lg lg13" transform="translate(1597.693 126.336) scale(1.2489 1.6965) rotate(0.05)" x="0" y="0" style="font-size:20.172px;">(</text><text class="lg lg14" transform="translate(1610.512 111.974) scale(1.0420 1.0899) rotate(0.05)" x="0" y="0" style="font-size:19.444px;">1</text><text class="lg lg15" transform="translate(1610.461 136.119) scale(1.0180 1.0377) rotate(0.05)" x="0" y="0" style="font-size:19.444px;">2</text><text class="lg lg16" transform="translate(1628.531 125.929) scale(1.1485 1.6254) rotate(0.05)" x="0" y="0" style="font-size:20.172px;">)</text><text class="lg lg17" transform="translate(1640.289 112.954) scale(1.0923 1.0462) rotate(0.05)" x="0" y="0" style="font-size:19.444px;font-style:italic;">n</text><rect class="lg lr0" x="1610.000" y="118.000" width="14.000" height="1.000"/></g>
</svg>
</body></html>
